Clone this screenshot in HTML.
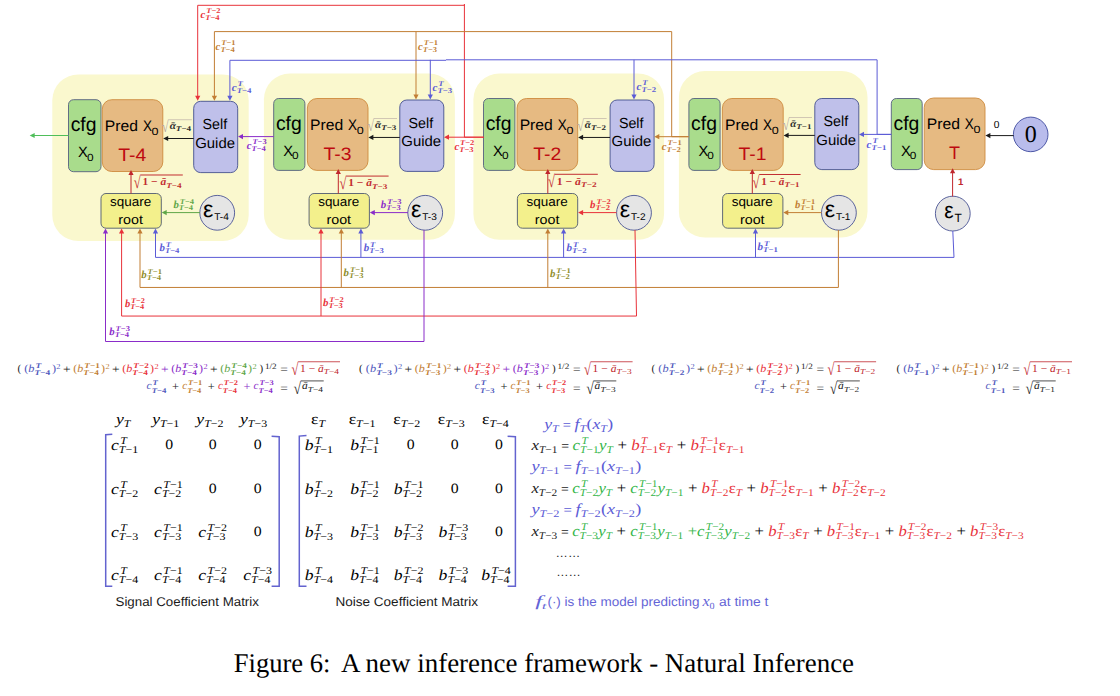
<!DOCTYPE html>
<html lang="en"><head><meta charset="utf-8"><title>Figure 6: A new inference framework - Natural Inference</title>
<style>
html,body{margin:0;padding:0;background:#fff;}
body{width:1120px;height:696px;overflow:hidden;}
svg{display:block;}
text{white-space:pre;text-rendering:geometricPrecision;}
.s,.sb,.si{font-family:"Liberation Sans",sans-serif;}
.r,.rb,.ri,.rbi{font-family:"Liberation Serif",serif;}
.sb,.rb,.rbi{font-weight:bold;}
.si,.ri,.rbi,.i{font-style:italic;}
</style></head><body>
<svg width="1120" height="696" viewBox="0 0 1120 696">
<rect width="1120" height="696" fill="#fff"/>
<g id="groups">
<rect x="52.30" y="74.40" width="196.40" height="166.60" rx="26" fill="#FAF8CE"/>
<rect x="263.90" y="73.40" width="191.00" height="166.30" rx="26" fill="#FAF8CE"/>
<rect x="473.40" y="73.40" width="190.70" height="166.30" rx="26" fill="#FAF8CE"/>
<rect x="678.90" y="71.10" width="188.60" height="166.40" rx="26" fill="#FAF8CE"/>
</g>
<g id="boxes">
<rect x="68.50" y="99.70" width="32.50" height="72.00" rx="5" fill="#A9DC8C" stroke="#55607F" stroke-width="0.9"/>
<rect x="102.30" y="99.70" width="60.50" height="71.80" rx="9.5" fill="#E6BA82" stroke="#CE8B3E" stroke-width="0.9"/>
<rect x="193.70" y="101.30" width="44.00" height="71.30" rx="7" fill="#BFC0EA" stroke="#44508F" stroke-width="0.9"/>
<rect x="101.00" y="193.50" width="60.30" height="34.70" rx="5" fill="#F3F08C" stroke="#4F5A70" stroke-width="0.9"/>
<circle cx="217.2" cy="212.8" r="17.4" fill="#E5E5E5" stroke="#4A5394" stroke-width="0.9"/>
<rect x="273.70" y="98.50" width="31.20" height="71.90" rx="5" fill="#A9DC8C" stroke="#55607F" stroke-width="0.9"/>
<rect x="307.40" y="98.50" width="60.60" height="71.90" rx="9.5" fill="#E6BA82" stroke="#CE8B3E" stroke-width="0.9"/>
<rect x="399.80" y="100.00" width="44.00" height="71.40" rx="7" fill="#BFC0EA" stroke="#44508F" stroke-width="0.9"/>
<rect x="309.10" y="193.50" width="60.30" height="34.70" rx="5" fill="#F3F08C" stroke="#4F5A70" stroke-width="0.9"/>
<circle cx="425.2" cy="212.8" r="17.4" fill="#E5E5E5" stroke="#4A5394" stroke-width="0.9"/>
<rect x="483.50" y="98.50" width="31.40" height="71.90" rx="5" fill="#A9DC8C" stroke="#55607F" stroke-width="0.9"/>
<rect x="517.10" y="98.50" width="60.60" height="71.90" rx="9.5" fill="#E6BA82" stroke="#CE8B3E" stroke-width="0.9"/>
<rect x="610.10" y="100.00" width="44.00" height="71.40" rx="7" fill="#BFC0EA" stroke="#44508F" stroke-width="0.9"/>
<rect x="517.40" y="193.50" width="60.30" height="34.70" rx="5" fill="#F3F08C" stroke="#4F5A70" stroke-width="0.9"/>
<circle cx="634.0" cy="212.8" r="17.4" fill="#E5E5E5" stroke="#4A5394" stroke-width="0.9"/>
<rect x="688.90" y="98.50" width="31.20" height="71.90" rx="5" fill="#A9DC8C" stroke="#55607F" stroke-width="0.9"/>
<rect x="722.40" y="98.50" width="60.80" height="71.90" rx="9.5" fill="#E6BA82" stroke="#CE8B3E" stroke-width="0.9"/>
<rect x="814.80" y="98.50" width="44.00" height="71.10" rx="7" fill="#BFC0EA" stroke="#44508F" stroke-width="0.9"/>
<rect x="722.60" y="193.50" width="60.30" height="34.70" rx="5" fill="#F3F08C" stroke="#4F5A70" stroke-width="0.9"/>
<circle cx="838.9" cy="212.8" r="17.4" fill="#E5E5E5" stroke="#4A5394" stroke-width="0.9"/>
<rect x="891.30" y="98.50" width="30.90" height="71.10" rx="5" fill="#A9DC8C" stroke="#55607F" stroke-width="0.9"/>
<rect x="924.20" y="98.00" width="60.80" height="71.60" rx="9.5" fill="#E6BA82" stroke="#CE8B3E" stroke-width="0.9"/>
<circle cx="952.8" cy="213.6" r="17.4" fill="#E5E5E5" stroke="#4A5394" stroke-width="0.9"/>
<circle cx="1030.7" cy="134.4" r="17.3" fill="#B9BCEC" stroke="#3F4C9E" stroke-width="0.9"/>
</g>
<g id="wires">
<polyline points="483.80,137.20 464.40,137.20 464.40,4.20 464.40,5.30 197.70,5.30" fill="none" stroke="#E8323A" stroke-width="1.0"/>
<polyline points="197.70,5.30 197.70,96.80" fill="none" stroke="#E8323A" stroke-width="1.0"/>
<polygon points="197.70,100.80 195.10,95.80 200.30,95.80" fill="#E8323A"/>
<polyline points="483.80,137.20 448.00,137.20" fill="none" stroke="#E8323A" stroke-width="1.0"/>
<polygon points="444.00,137.20 449.00,134.60 449.00,139.80" fill="#E8323A"/>
<polyline points="688.70,136.70 671.70,136.70 671.70,31.60 214.40,31.60" fill="none" stroke="#C27E34" stroke-width="1.0"/>
<polyline points="214.40,31.60 214.40,96.80" fill="none" stroke="#C27E34" stroke-width="1.0"/>
<polygon points="214.40,100.80 211.80,95.80 217.00,95.80" fill="#C27E34"/>
<polyline points="416.00,31.60 416.00,95.60" fill="none" stroke="#C27E34" stroke-width="1.0"/>
<polygon points="416.00,99.60 413.40,94.60 418.60,94.60" fill="#C27E34"/>
<polyline points="688.70,136.70 658.30,136.70" fill="none" stroke="#C27E34" stroke-width="1.0"/>
<polygon points="654.30,136.70 659.30,134.10 659.30,139.30" fill="#C27E34"/>
<polyline points="891.20,134.40 877.10,134.40 877.10,59.80 446.00,59.80" fill="none" stroke="#5B5BD6" stroke-width="1.0"/>
<polyline points="446.00,60.30 229.90,60.30" fill="none" stroke="#5B5BD6" stroke-width="1.0"/>
<polyline points="229.90,60.30 229.90,96.80" fill="none" stroke="#5B5BD6" stroke-width="1.0"/>
<polygon points="229.90,100.80 227.30,95.80 232.50,95.80" fill="#5B5BD6"/>
<polyline points="430.30,59.80 430.30,95.60" fill="none" stroke="#5B5BD6" stroke-width="1.0"/>
<polygon points="430.30,99.60 427.70,94.60 432.90,94.60" fill="#5B5BD6"/>
<polyline points="634.00,59.80 634.00,95.60" fill="none" stroke="#5B5BD6" stroke-width="1.0"/>
<polygon points="634.00,99.60 631.40,94.60 636.60,94.60" fill="#5B5BD6"/>
<polyline points="891.20,134.40 863.00,134.40" fill="none" stroke="#5B5BD6" stroke-width="1.0"/>
<polygon points="859.00,134.40 864.00,131.80 864.00,137.00" fill="#5B5BD6"/>
<polyline points="273.70,136.60 242.00,136.60" fill="none" stroke="#8A2CC9" stroke-width="1.0"/>
<polygon points="238.00,136.60 243.00,134.00 243.00,139.20" fill="#8A2CC9"/>
<polyline points="68.50,135.50 33.70,135.50" fill="none" stroke="#4FBE5A" stroke-width="1.0"/>
<polygon points="29.70,135.50 34.70,132.90 34.70,138.10" fill="#4FBE5A"/>
<polyline points="193.70,138.50 167.20,138.50" fill="none" stroke="#1a1a1a" stroke-width="1.0"/>
<polygon points="163.20,138.50 168.20,135.90 168.20,141.10" fill="#1a1a1a"/>
<polyline points="399.80,137.45 372.40,137.45" fill="none" stroke="#1a1a1a" stroke-width="1.0"/>
<polygon points="368.40,137.45 373.40,134.85 373.40,140.05" fill="#1a1a1a"/>
<polyline points="610.10,137.45 582.10,137.45" fill="none" stroke="#1a1a1a" stroke-width="1.0"/>
<polygon points="578.10,137.45 583.10,134.85 583.10,140.05" fill="#1a1a1a"/>
<polyline points="814.80,135.40 787.60,135.40" fill="none" stroke="#1a1a1a" stroke-width="1.0"/>
<polygon points="783.60,135.40 788.60,132.80 788.60,138.00" fill="#1a1a1a"/>
<polyline points="1013.60,135.60 989.40,135.60" fill="none" stroke="#1a1a1a" stroke-width="1.0"/>
<polygon points="985.40,135.60 990.40,133.00 990.40,138.20" fill="#1a1a1a"/>
<polyline points="131.00,193.50 131.00,174.10" fill="none" stroke="#C0272D" stroke-width="1.0"/>
<polygon points="131.00,170.10 133.60,175.10 128.40,175.10" fill="#C0272D"/>
<polyline points="338.30,193.50 338.30,173.00" fill="none" stroke="#C0272D" stroke-width="1.0"/>
<polygon points="338.30,169.00 340.90,174.00 335.70,174.00" fill="#C0272D"/>
<polyline points="547.80,193.50 547.80,173.00" fill="none" stroke="#C0272D" stroke-width="1.0"/>
<polygon points="547.80,169.00 550.40,174.00 545.20,174.00" fill="#C0272D"/>
<polyline points="752.30,193.50 752.30,173.00" fill="none" stroke="#C0272D" stroke-width="1.0"/>
<polygon points="752.30,169.00 754.90,174.00 749.70,174.00" fill="#C0272D"/>
<polyline points="952.60,196.50 952.60,172.20" fill="none" stroke="#C0272D" stroke-width="1.0"/>
<polygon points="952.60,168.20 955.20,173.20 950.00,173.20" fill="#C0272D"/>
<polyline points="200.00,212.60 165.70,212.60" fill="none" stroke="#5FA648" stroke-width="1.0"/>
<polygon points="161.70,212.60 166.70,210.00 166.70,215.20" fill="#5FA648"/>
<polyline points="408.00,212.60 373.80,212.60" fill="none" stroke="#8A2CC9" stroke-width="1.0"/>
<polygon points="369.80,212.60 374.80,210.00 374.80,215.20" fill="#8A2CC9"/>
<polyline points="616.50,212.60 582.10,212.60" fill="none" stroke="#E8323A" stroke-width="1.0"/>
<polygon points="578.10,212.60 583.10,210.00 583.10,215.20" fill="#E8323A"/>
<polyline points="821.50,212.60 787.30,212.60" fill="none" stroke="#C27E34" stroke-width="1.0"/>
<polygon points="783.30,212.60 788.30,210.00 788.30,215.20" fill="#C27E34"/>
<polyline points="952.80,231.00 954.00,257.40 155.50,257.40" fill="none" stroke="#5B5BD6" stroke-width="1.0"/>
<polyline points="155.50,257.40 155.50,232.50" fill="none" stroke="#5B5BD6" stroke-width="1.0"/>
<polygon points="155.50,228.50 158.10,233.50 152.90,233.50" fill="#5B5BD6"/>
<polyline points="360.90,257.40 360.90,232.50" fill="none" stroke="#5B5BD6" stroke-width="1.0"/>
<polygon points="360.90,228.50 363.50,233.50 358.30,233.50" fill="#5B5BD6"/>
<polyline points="563.60,257.40 563.60,232.50" fill="none" stroke="#5B5BD6" stroke-width="1.0"/>
<polygon points="563.60,228.50 566.20,233.50 561.00,233.50" fill="#5B5BD6"/>
<polyline points="755.50,257.40 755.50,232.50" fill="none" stroke="#5B5BD6" stroke-width="1.0"/>
<polygon points="755.50,228.50 758.10,233.50 752.90,233.50" fill="#5B5BD6"/>
<polyline points="838.40,230.00 838.40,287.45 140.00,287.45" fill="none" stroke="#C27E34" stroke-width="1.0"/>
<polyline points="140.00,287.45 140.00,232.50" fill="none" stroke="#C27E34" stroke-width="1.0"/>
<polygon points="140.00,228.50 142.60,233.50 137.40,233.50" fill="#C27E34"/>
<polyline points="341.30,287.45 341.30,232.50" fill="none" stroke="#C27E34" stroke-width="1.0"/>
<polygon points="341.30,228.50 343.90,233.50 338.70,233.50" fill="#C27E34"/>
<polyline points="547.80,287.45 547.80,232.50" fill="none" stroke="#C27E34" stroke-width="1.0"/>
<polygon points="547.80,228.50 550.40,233.50 545.20,233.50" fill="#C27E34"/>
<polyline points="635.00,230.00 636.50,316.05 121.60,316.05" fill="none" stroke="#E8323A" stroke-width="1.0"/>
<polyline points="121.60,316.05 121.60,232.50" fill="none" stroke="#E8323A" stroke-width="1.0"/>
<polygon points="121.60,228.50 124.20,233.50 119.00,233.50" fill="#E8323A"/>
<polyline points="321.00,316.05 321.00,232.50" fill="none" stroke="#E8323A" stroke-width="1.0"/>
<polygon points="321.00,228.50 323.60,233.50 318.40,233.50" fill="#E8323A"/>
<polyline points="424.00,230.00 424.00,341.50 105.50,341.50" fill="none" stroke="#8A2CC9" stroke-width="1.0"/>
<polyline points="105.50,341.50 105.50,232.50" fill="none" stroke="#8A2CC9" stroke-width="1.0"/>
<polygon points="105.50,228.50 108.10,233.50 102.90,233.50" fill="#8A2CC9"/>
</g>
<g id="boxtext">
<text x="70.70" y="131.00" font-size="19.80" fill="#000" class="s" textLength="25.80" lengthAdjust="spacingAndGlyphs">cfg</text>
<text x="78.10" y="157.00" font-size="15.00" fill="#000" class="s" textLength="9.80" lengthAdjust="spacingAndGlyphs">X</text>
<text x="86.90" y="160.50" font-size="10.40" fill="#000" class="s" textLength="6.60" lengthAdjust="spacingAndGlyphs">0</text>
<text x="104.85" y="130.70" font-size="15.20" fill="#000" class="s" textLength="33.20" lengthAdjust="spacingAndGlyphs">Pred</text>
<text x="142.90" y="130.70" font-size="15.20" fill="#000" class="s" textLength="9.00" lengthAdjust="spacingAndGlyphs">X</text>
<text x="151.60" y="134.70" font-size="10.50" fill="#000" class="s" textLength="7.00" lengthAdjust="spacingAndGlyphs">0</text>
<text x="132.35" y="160.90" font-size="18.00" fill="#BE0A10" class="s" text-anchor="middle" textLength="28.00" lengthAdjust="spacingAndGlyphs">T-4</text>
<text x="214.80" y="129.00" font-size="14.60" fill="#000" class="s" text-anchor="middle" textLength="24.60" lengthAdjust="spacingAndGlyphs">Self</text>
<text x="215.10" y="147.60" font-size="14.60" fill="#000" class="s" text-anchor="middle" textLength="39.80" lengthAdjust="spacingAndGlyphs">Guide</text>
<text x="130.65" y="206.40" font-size="13.00" fill="#000" class="s" text-anchor="middle" textLength="41.20" lengthAdjust="spacingAndGlyphs">square</text>
<text x="130.65" y="223.60" font-size="13.00" fill="#000" class="s" text-anchor="middle" textLength="24.60" lengthAdjust="spacingAndGlyphs">root</text>
<text x="203.00" y="216.70" font-size="23.20" fill="#000" class="s" textLength="10.40" lengthAdjust="spacingAndGlyphs">ε</text>
<text x="214.20" y="220.30" font-size="9.80" fill="#000" class="s" textLength="14.60" lengthAdjust="spacingAndGlyphs">T-4</text>
<text x="275.90" y="129.80" font-size="19.80" fill="#000" class="s" textLength="25.80" lengthAdjust="spacingAndGlyphs">cfg</text>
<text x="283.30" y="155.80" font-size="15.00" fill="#000" class="s" textLength="9.80" lengthAdjust="spacingAndGlyphs">X</text>
<text x="292.10" y="159.30" font-size="10.40" fill="#000" class="s" textLength="6.60" lengthAdjust="spacingAndGlyphs">0</text>
<text x="309.95" y="129.50" font-size="15.20" fill="#000" class="s" textLength="33.20" lengthAdjust="spacingAndGlyphs">Pred</text>
<text x="348.00" y="129.50" font-size="15.20" fill="#000" class="s" textLength="9.00" lengthAdjust="spacingAndGlyphs">X</text>
<text x="356.70" y="133.50" font-size="10.50" fill="#000" class="s" textLength="7.00" lengthAdjust="spacingAndGlyphs">0</text>
<text x="337.50" y="159.70" font-size="18.00" fill="#BE0A10" class="s" text-anchor="middle" textLength="28.00" lengthAdjust="spacingAndGlyphs">T-3</text>
<text x="420.90" y="127.70" font-size="14.60" fill="#000" class="s" text-anchor="middle" textLength="24.60" lengthAdjust="spacingAndGlyphs">Self</text>
<text x="421.20" y="146.30" font-size="14.60" fill="#000" class="s" text-anchor="middle" textLength="39.80" lengthAdjust="spacingAndGlyphs">Guide</text>
<text x="338.75" y="206.40" font-size="13.00" fill="#000" class="s" text-anchor="middle" textLength="41.20" lengthAdjust="spacingAndGlyphs">square</text>
<text x="338.75" y="223.60" font-size="13.00" fill="#000" class="s" text-anchor="middle" textLength="24.60" lengthAdjust="spacingAndGlyphs">root</text>
<text x="411.00" y="216.70" font-size="23.20" fill="#000" class="s" textLength="10.40" lengthAdjust="spacingAndGlyphs">ε</text>
<text x="422.20" y="220.30" font-size="9.80" fill="#000" class="s" textLength="14.60" lengthAdjust="spacingAndGlyphs">T-3</text>
<text x="485.70" y="129.80" font-size="19.80" fill="#000" class="s" textLength="25.80" lengthAdjust="spacingAndGlyphs">cfg</text>
<text x="493.10" y="155.80" font-size="15.00" fill="#000" class="s" textLength="9.80" lengthAdjust="spacingAndGlyphs">X</text>
<text x="501.90" y="159.30" font-size="10.40" fill="#000" class="s" textLength="6.60" lengthAdjust="spacingAndGlyphs">0</text>
<text x="519.65" y="129.50" font-size="15.20" fill="#000" class="s" textLength="33.20" lengthAdjust="spacingAndGlyphs">Pred</text>
<text x="557.70" y="129.50" font-size="15.20" fill="#000" class="s" textLength="9.00" lengthAdjust="spacingAndGlyphs">X</text>
<text x="566.40" y="133.50" font-size="10.50" fill="#000" class="s" textLength="7.00" lengthAdjust="spacingAndGlyphs">0</text>
<text x="547.20" y="159.70" font-size="18.00" fill="#BE0A10" class="s" text-anchor="middle" textLength="28.00" lengthAdjust="spacingAndGlyphs">T-2</text>
<text x="631.20" y="127.70" font-size="14.60" fill="#000" class="s" text-anchor="middle" textLength="24.60" lengthAdjust="spacingAndGlyphs">Self</text>
<text x="631.50" y="146.30" font-size="14.60" fill="#000" class="s" text-anchor="middle" textLength="39.80" lengthAdjust="spacingAndGlyphs">Guide</text>
<text x="547.05" y="206.40" font-size="13.00" fill="#000" class="s" text-anchor="middle" textLength="41.20" lengthAdjust="spacingAndGlyphs">square</text>
<text x="547.05" y="223.60" font-size="13.00" fill="#000" class="s" text-anchor="middle" textLength="24.60" lengthAdjust="spacingAndGlyphs">root</text>
<text x="619.80" y="216.70" font-size="23.20" fill="#000" class="s" textLength="10.40" lengthAdjust="spacingAndGlyphs">ε</text>
<text x="631.00" y="220.30" font-size="9.80" fill="#000" class="s" textLength="14.60" lengthAdjust="spacingAndGlyphs">T-2</text>
<text x="691.10" y="129.80" font-size="19.80" fill="#000" class="s" textLength="25.80" lengthAdjust="spacingAndGlyphs">cfg</text>
<text x="698.50" y="155.80" font-size="15.00" fill="#000" class="s" textLength="9.80" lengthAdjust="spacingAndGlyphs">X</text>
<text x="707.30" y="159.30" font-size="10.40" fill="#000" class="s" textLength="6.60" lengthAdjust="spacingAndGlyphs">0</text>
<text x="724.95" y="129.50" font-size="15.20" fill="#000" class="s" textLength="33.20" lengthAdjust="spacingAndGlyphs">Pred</text>
<text x="763.00" y="129.50" font-size="15.20" fill="#000" class="s" textLength="9.00" lengthAdjust="spacingAndGlyphs">X</text>
<text x="771.70" y="133.50" font-size="10.50" fill="#000" class="s" textLength="7.00" lengthAdjust="spacingAndGlyphs">0</text>
<text x="752.60" y="159.70" font-size="18.00" fill="#BE0A10" class="s" text-anchor="middle" textLength="28.00" lengthAdjust="spacingAndGlyphs">T-1</text>
<text x="835.90" y="126.20" font-size="14.60" fill="#000" class="s" text-anchor="middle" textLength="24.60" lengthAdjust="spacingAndGlyphs">Self</text>
<text x="836.20" y="144.80" font-size="14.60" fill="#000" class="s" text-anchor="middle" textLength="39.80" lengthAdjust="spacingAndGlyphs">Guide</text>
<text x="752.25" y="206.40" font-size="13.00" fill="#000" class="s" text-anchor="middle" textLength="41.20" lengthAdjust="spacingAndGlyphs">square</text>
<text x="752.25" y="223.60" font-size="13.00" fill="#000" class="s" text-anchor="middle" textLength="24.60" lengthAdjust="spacingAndGlyphs">root</text>
<text x="824.70" y="216.70" font-size="23.20" fill="#000" class="s" textLength="10.40" lengthAdjust="spacingAndGlyphs">ε</text>
<text x="835.90" y="220.30" font-size="9.80" fill="#000" class="s" textLength="14.60" lengthAdjust="spacingAndGlyphs">T-1</text>
<text x="893.50" y="129.80" font-size="19.80" fill="#000" class="s" textLength="25.80" lengthAdjust="spacingAndGlyphs">cfg</text>
<text x="900.90" y="155.80" font-size="15.00" fill="#000" class="s" textLength="9.80" lengthAdjust="spacingAndGlyphs">X</text>
<text x="909.70" y="159.30" font-size="10.40" fill="#000" class="s" textLength="6.60" lengthAdjust="spacingAndGlyphs">0</text>
<text x="926.75" y="129.00" font-size="15.20" fill="#000" class="s" textLength="33.20" lengthAdjust="spacingAndGlyphs">Pred</text>
<text x="964.80" y="129.00" font-size="15.20" fill="#000" class="s" textLength="9.00" lengthAdjust="spacingAndGlyphs">X</text>
<text x="973.50" y="133.00" font-size="10.50" fill="#000" class="s" textLength="7.00" lengthAdjust="spacingAndGlyphs">0</text>
<text x="954.40" y="159.20" font-size="18.00" fill="#BE0A10" class="s" text-anchor="middle">T</text>
<text x="944.20" y="217.80" font-size="23.00" fill="#000" class="s" textLength="9.40" lengthAdjust="spacingAndGlyphs">ε</text>
<text x="954.60" y="221.80" font-size="12.00" fill="#000" class="s">T</text>
<text x="1030.70" y="141.80" font-size="24.00" fill="#000" class="r" text-anchor="middle">0</text>
<text x="996.60" y="127.60" font-size="10.20" fill="#000" class="s" text-anchor="middle">0</text>
<text x="960.70" y="185.20" font-size="9.60" fill="#C0272D" class="sb" text-anchor="middle">1</text>
</g>
<g id="labels">
<g transform="translate(200.50,18.00) scale(0.9917,1)">
<text x="0.00" y="0.00" font-size="10.80" fill="#E8323A" class="rbi">c</text>
<text x="5.74" y="-5.00" font-size="7.40" fill="#E8323A" class="rb" textLength="14.43" lengthAdjust="spacingAndGlyphs"><tspan class="i">T</tspan>−2</text>
<text x="4.88" y="2.00" font-size="7.40" fill="#E8323A" class="rb" textLength="14.43" lengthAdjust="spacingAndGlyphs"><tspan class="i">T</tspan>−4</text>
</g>
<g transform="translate(215.60,50.00) scale(0.9917,1)">
<text x="0.00" y="0.00" font-size="10.80" fill="#C27E34" class="rbi">c</text>
<text x="5.74" y="-5.00" font-size="7.40" fill="#C27E34" class="rb" textLength="14.43" lengthAdjust="spacingAndGlyphs"><tspan class="i">T</tspan>−1</text>
<text x="4.88" y="2.00" font-size="7.40" fill="#C27E34" class="rb" textLength="14.43" lengthAdjust="spacingAndGlyphs"><tspan class="i">T</tspan>−4</text>
</g>
<g transform="translate(231.70,91.00) scale(1.0246,1)">
<text x="0.00" y="0.00" font-size="10.80" fill="#5B5BD6" class="rbi">c</text>
<text x="5.74" y="-5.00" font-size="7.40" fill="#5B5BD6" class="rbi" textLength="5.24" lengthAdjust="spacingAndGlyphs">T</text>
<text x="4.88" y="2.00" font-size="7.40" fill="#5B5BD6" class="rb" textLength="14.43" lengthAdjust="spacingAndGlyphs"><tspan class="i">T</tspan>−4</text>
</g>
<g transform="translate(418.00,50.00) scale(0.9917,1)">
<text x="0.00" y="0.00" font-size="10.80" fill="#C27E34" class="rbi">c</text>
<text x="5.74" y="-5.00" font-size="7.40" fill="#C27E34" class="rb" textLength="14.43" lengthAdjust="spacingAndGlyphs"><tspan class="i">T</tspan>−1</text>
<text x="4.88" y="2.00" font-size="7.40" fill="#C27E34" class="rb" textLength="14.43" lengthAdjust="spacingAndGlyphs"><tspan class="i">T</tspan>−3</text>
</g>
<g transform="translate(432.50,91.00) scale(1.0246,1)">
<text x="0.00" y="0.00" font-size="10.80" fill="#5B5BD6" class="rbi">c</text>
<text x="5.74" y="-5.00" font-size="7.40" fill="#5B5BD6" class="rbi" textLength="5.24" lengthAdjust="spacingAndGlyphs">T</text>
<text x="4.88" y="2.00" font-size="7.40" fill="#5B5BD6" class="rb" textLength="14.43" lengthAdjust="spacingAndGlyphs"><tspan class="i">T</tspan>−3</text>
</g>
<g transform="translate(636.50,90.00) scale(1.0246,1)">
<text x="0.00" y="0.00" font-size="10.80" fill="#5B5BD6" class="rbi">c</text>
<text x="5.74" y="-5.00" font-size="7.40" fill="#5B5BD6" class="rbi" textLength="5.24" lengthAdjust="spacingAndGlyphs">T</text>
<text x="4.88" y="2.00" font-size="7.40" fill="#5B5BD6" class="rb" textLength="14.43" lengthAdjust="spacingAndGlyphs"><tspan class="i">T</tspan>−2</text>
</g>
<g transform="translate(246.70,149.00) scale(0.9917,1)">
<text x="0.00" y="0.00" font-size="10.80" fill="#8A2CC9" class="rbi">c</text>
<text x="5.74" y="-5.00" font-size="7.40" fill="#8A2CC9" class="rb" textLength="14.43" lengthAdjust="spacingAndGlyphs"><tspan class="i">T</tspan>−3</text>
<text x="4.88" y="2.00" font-size="7.40" fill="#8A2CC9" class="rb" textLength="14.43" lengthAdjust="spacingAndGlyphs"><tspan class="i">T</tspan>−4</text>
</g>
<g transform="translate(454.40,150.00) scale(0.9917,1)">
<text x="0.00" y="0.00" font-size="10.80" fill="#E8323A" class="rbi">c</text>
<text x="5.74" y="-5.00" font-size="7.40" fill="#E8323A" class="rb" textLength="14.43" lengthAdjust="spacingAndGlyphs"><tspan class="i">T</tspan>−2</text>
<text x="4.88" y="2.00" font-size="7.40" fill="#E8323A" class="rb" textLength="14.43" lengthAdjust="spacingAndGlyphs"><tspan class="i">T</tspan>−3</text>
</g>
<g transform="translate(661.70,150.00) scale(0.9917,1)">
<text x="0.00" y="0.00" font-size="10.80" fill="#C27E34" class="rbi">c</text>
<text x="5.74" y="-5.00" font-size="7.40" fill="#C27E34" class="rb" textLength="14.43" lengthAdjust="spacingAndGlyphs"><tspan class="i">T</tspan>−1</text>
<text x="4.88" y="2.00" font-size="7.40" fill="#C27E34" class="rb" textLength="14.43" lengthAdjust="spacingAndGlyphs"><tspan class="i">T</tspan>−2</text>
</g>
<g transform="translate(866.60,148.00) scale(1.0246,1)">
<text x="0.00" y="0.00" font-size="10.80" fill="#5B5BD6" class="rbi">c</text>
<text x="5.74" y="-5.00" font-size="7.40" fill="#5B5BD6" class="rbi" textLength="5.24" lengthAdjust="spacingAndGlyphs">T</text>
<text x="4.88" y="2.00" font-size="7.40" fill="#5B5BD6" class="rb" textLength="14.43" lengthAdjust="spacingAndGlyphs"><tspan class="i">T</tspan>−1</text>
</g>
<g transform="translate(173.40,208.00) scale(0.9916,1)">
<text x="0.00" y="0.00" font-size="10.80" fill="#5FA648" class="rbi">b</text>
<text x="6.35" y="-4.00" font-size="7.40" fill="#5FA648" class="rb" textLength="14.43" lengthAdjust="spacingAndGlyphs"><tspan class="i">T</tspan>−4</text>
<text x="5.48" y="2.00" font-size="7.40" fill="#5FA648" class="rb" textLength="14.43" lengthAdjust="spacingAndGlyphs"><tspan class="i">T</tspan>−4</text>
</g>
<g transform="translate(380.80,208.00) scale(1.0012,1)">
<text x="0.00" y="0.00" font-size="10.80" fill="#8A2CC9" class="rbi">b</text>
<text x="6.35" y="-4.00" font-size="7.40" fill="#8A2CC9" class="rb" textLength="14.43" lengthAdjust="spacingAndGlyphs"><tspan class="i">T</tspan>−3</text>
<text x="5.48" y="2.00" font-size="7.40" fill="#8A2CC9" class="rb" textLength="14.43" lengthAdjust="spacingAndGlyphs"><tspan class="i">T</tspan>−3</text>
</g>
<g transform="translate(590.00,208.00) scale(1.0060,1)">
<text x="0.00" y="0.00" font-size="10.80" fill="#E8323A" class="rbi">b</text>
<text x="6.35" y="-4.00" font-size="7.40" fill="#E8323A" class="rb" textLength="14.43" lengthAdjust="spacingAndGlyphs"><tspan class="i">T</tspan>−2</text>
<text x="5.48" y="2.00" font-size="7.40" fill="#E8323A" class="rb" textLength="14.43" lengthAdjust="spacingAndGlyphs"><tspan class="i">T</tspan>−2</text>
</g>
<g transform="translate(795.00,208.00) scale(0.9771,1)">
<text x="0.00" y="0.00" font-size="10.80" fill="#C27E34" class="rbi">b</text>
<text x="6.35" y="-4.00" font-size="7.40" fill="#C27E34" class="rb" textLength="14.43" lengthAdjust="spacingAndGlyphs"><tspan class="i">T</tspan>−1</text>
<text x="5.48" y="2.00" font-size="7.40" fill="#C27E34" class="rb" textLength="14.43" lengthAdjust="spacingAndGlyphs"><tspan class="i">T</tspan>−1</text>
</g>
<g transform="translate(159.50,251.00) scale(0.9987,1)">
<text x="0.00" y="0.00" font-size="10.80" fill="#5B5BD6" class="rbi">b</text>
<text x="6.35" y="-4.00" font-size="7.40" fill="#5B5BD6" class="rbi" textLength="5.24" lengthAdjust="spacingAndGlyphs">T</text>
<text x="5.48" y="2.00" font-size="7.40" fill="#5B5BD6" class="rb" textLength="14.43" lengthAdjust="spacingAndGlyphs"><tspan class="i">T</tspan>−4</text>
</g>
<g transform="translate(363.70,251.00) scale(1.0086,1)">
<text x="0.00" y="0.00" font-size="10.80" fill="#5B5BD6" class="rbi">b</text>
<text x="6.35" y="-4.00" font-size="7.40" fill="#5B5BD6" class="rbi" textLength="5.24" lengthAdjust="spacingAndGlyphs">T</text>
<text x="5.48" y="2.00" font-size="7.40" fill="#5B5BD6" class="rb" textLength="14.43" lengthAdjust="spacingAndGlyphs"><tspan class="i">T</tspan>−3</text>
</g>
<g transform="translate(566.40,251.00) scale(1.0235,1)">
<text x="0.00" y="0.00" font-size="10.80" fill="#5B5BD6" class="rbi">b</text>
<text x="6.35" y="-4.00" font-size="7.40" fill="#5B5BD6" class="rbi" textLength="5.24" lengthAdjust="spacingAndGlyphs">T</text>
<text x="5.48" y="2.00" font-size="7.40" fill="#5B5BD6" class="rb" textLength="14.43" lengthAdjust="spacingAndGlyphs"><tspan class="i">T</tspan>−2</text>
</g>
<g transform="translate(757.50,250.00) scale(1.0185,1)">
<text x="0.00" y="0.00" font-size="10.80" fill="#5B5BD6" class="rbi">b</text>
<text x="6.35" y="-4.00" font-size="7.40" fill="#5B5BD6" class="rbi" textLength="5.24" lengthAdjust="spacingAndGlyphs">T</text>
<text x="5.48" y="2.00" font-size="7.40" fill="#5B5BD6" class="rb" textLength="14.43" lengthAdjust="spacingAndGlyphs"><tspan class="i">T</tspan>−1</text>
</g>
<g transform="translate(141.20,278.00) scale(1.0012,1)">
<text x="0.00" y="0.00" font-size="10.80" fill="#8F8D2B" class="rbi">b</text>
<text x="6.35" y="-4.00" font-size="7.40" fill="#8F8D2B" class="rb" textLength="14.43" lengthAdjust="spacingAndGlyphs"><tspan class="i">T</tspan>−1</text>
<text x="5.48" y="2.00" font-size="7.40" fill="#8F8D2B" class="rb" textLength="14.43" lengthAdjust="spacingAndGlyphs"><tspan class="i">T</tspan>−4</text>
</g>
<g transform="translate(343.60,276.00) scale(1.0012,1)">
<text x="0.00" y="0.00" font-size="10.80" fill="#8F8D2B" class="rbi">b</text>
<text x="6.35" y="-4.00" font-size="7.40" fill="#8F8D2B" class="rb" textLength="14.43" lengthAdjust="spacingAndGlyphs"><tspan class="i">T</tspan>−1</text>
<text x="5.48" y="2.00" font-size="7.40" fill="#8F8D2B" class="rb" textLength="14.43" lengthAdjust="spacingAndGlyphs"><tspan class="i">T</tspan>−3</text>
</g>
<g transform="translate(550.00,277.00) scale(0.9964,1)">
<text x="0.00" y="0.00" font-size="10.80" fill="#8F8D2B" class="rbi">b</text>
<text x="6.35" y="-4.00" font-size="7.40" fill="#8F8D2B" class="rb" textLength="14.43" lengthAdjust="spacingAndGlyphs"><tspan class="i">T</tspan>−1</text>
<text x="5.48" y="2.00" font-size="7.40" fill="#8F8D2B" class="rb" textLength="14.43" lengthAdjust="spacingAndGlyphs"><tspan class="i">T</tspan>−2</text>
</g>
<g transform="translate(124.90,307.00) scale(0.9675,1)">
<text x="0.00" y="0.00" font-size="10.80" fill="#E8323A" class="rbi">b</text>
<text x="6.35" y="-4.00" font-size="7.40" fill="#E8323A" class="rb" textLength="14.43" lengthAdjust="spacingAndGlyphs"><tspan class="i">T</tspan>−2</text>
<text x="5.48" y="2.00" font-size="7.40" fill="#E8323A" class="rb" textLength="14.43" lengthAdjust="spacingAndGlyphs"><tspan class="i">T</tspan>−4</text>
</g>
<g transform="translate(323.00,306.00) scale(1.0012,1)">
<text x="0.00" y="0.00" font-size="10.80" fill="#E8323A" class="rbi">b</text>
<text x="6.35" y="-4.00" font-size="7.40" fill="#E8323A" class="rb" textLength="14.43" lengthAdjust="spacingAndGlyphs"><tspan class="i">T</tspan>−2</text>
<text x="5.48" y="2.00" font-size="7.40" fill="#E8323A" class="rb" textLength="14.43" lengthAdjust="spacingAndGlyphs"><tspan class="i">T</tspan>−3</text>
</g>
<g transform="translate(109.30,335.00) scale(0.9964,1)">
<text x="0.00" y="0.00" font-size="10.80" fill="#8A2CC9" class="rbi">b</text>
<text x="6.35" y="-4.00" font-size="7.40" fill="#8A2CC9" class="rb" textLength="14.43" lengthAdjust="spacingAndGlyphs"><tspan class="i">T</tspan>−3</text>
<text x="5.48" y="2.00" font-size="7.40" fill="#8A2CC9" class="rb" textLength="14.43" lengthAdjust="spacingAndGlyphs"><tspan class="i">T</tspan>−4</text>
</g>
<text x="162.11" y="131.90" font-size="15.90" fill="#B3A59F" class="r" textLength="6.53" lengthAdjust="spacingAndGlyphs">√</text>
<line x1="168.40" y1="119.72" x2="191.80" y2="119.72" stroke="#B3A59F" stroke-width="0.6"/>
<g transform="translate(169.70,128.80) scale(1.0725,1)">
<text x="0.00" y="0.00" font-size="10.40" fill="#2b2b2b" class="rbi">ᾱ</text>
<text x="5.75" y="2.10" font-size="7.20" fill="#2b2b2b" class="rb" textLength="14.28" lengthAdjust="spacingAndGlyphs"><tspan class="i">T</tspan>−4</text>
</g>
<text x="367.51" y="130.70" font-size="15.90" fill="#B3A59F" class="r" textLength="6.53" lengthAdjust="spacingAndGlyphs">√</text>
<line x1="373.80" y1="118.52" x2="397.00" y2="118.52" stroke="#B3A59F" stroke-width="0.6"/>
<g transform="translate(375.10,127.60) scale(1.0626,1)">
<text x="0.00" y="0.00" font-size="10.40" fill="#2b2b2b" class="rbi">ᾱ</text>
<text x="5.75" y="2.10" font-size="7.20" fill="#2b2b2b" class="rb" textLength="14.28" lengthAdjust="spacingAndGlyphs"><tspan class="i">T</tspan>−3</text>
</g>
<text x="577.21" y="130.70" font-size="15.90" fill="#B3A59F" class="r" textLength="6.53" lengthAdjust="spacingAndGlyphs">√</text>
<line x1="583.50" y1="118.52" x2="606.60" y2="118.52" stroke="#B3A59F" stroke-width="0.6"/>
<g transform="translate(584.80,127.60) scale(1.0577,1)">
<text x="0.00" y="0.00" font-size="10.40" fill="#2b2b2b" class="rbi">ᾱ</text>
<text x="5.75" y="2.10" font-size="7.20" fill="#2b2b2b" class="rb" textLength="14.28" lengthAdjust="spacingAndGlyphs"><tspan class="i">T</tspan>−2</text>
</g>
<text x="782.71" y="129.70" font-size="15.90" fill="#B3A59F" class="r" textLength="6.53" lengthAdjust="spacingAndGlyphs">√</text>
<line x1="789.00" y1="117.52" x2="812.00" y2="117.52" stroke="#B3A59F" stroke-width="0.6"/>
<g transform="translate(790.30,126.60) scale(1.0528,1)">
<text x="0.00" y="0.00" font-size="10.40" fill="#2b2b2b" class="rbi">ᾱ</text>
<text x="5.75" y="2.10" font-size="7.20" fill="#2b2b2b" class="rb" textLength="14.28" lengthAdjust="spacingAndGlyphs"><tspan class="i">T</tspan>−1</text>
</g>
<text x="133.79" y="188.00" font-size="17.20" fill="#C22D31" class="r" textLength="6.94" lengthAdjust="spacingAndGlyphs">√</text>
<line x1="140.50" y1="174.99" x2="182.80" y2="174.99" stroke="#C22D31" stroke-width="1.0"/>
<g transform="translate(142.50,185.30) scale(1.0789,1)">
<text x="0.00" y="0.00" font-size="10.60" fill="#C22D31" class="rb">1 − <tspan class="i">ā</tspan></text>
<text x="22.03" y="2.20" font-size="7.20" fill="#C22D31" class="rb" textLength="14.28" lengthAdjust="spacingAndGlyphs"><tspan class="i">T</tspan>−4</text>
</g>
<text x="339.49" y="189.10" font-size="17.20" fill="#C22D31" class="r" textLength="6.94" lengthAdjust="spacingAndGlyphs">√</text>
<line x1="346.20" y1="176.09" x2="388.60" y2="176.09" stroke="#C22D31" stroke-width="1.0"/>
<g transform="translate(348.20,186.40) scale(1.0816,1)">
<text x="0.00" y="0.00" font-size="10.60" fill="#C22D31" class="rb">1 − <tspan class="i">ā</tspan></text>
<text x="22.03" y="2.20" font-size="7.20" fill="#C22D31" class="rb" textLength="14.28" lengthAdjust="spacingAndGlyphs"><tspan class="i">T</tspan>−3</text>
</g>
<text x="547.99" y="187.30" font-size="17.20" fill="#C22D31" class="r" textLength="6.94" lengthAdjust="spacingAndGlyphs">√</text>
<line x1="554.70" y1="174.29" x2="597.80" y2="174.29" stroke="#C22D31" stroke-width="1.0"/>
<g transform="translate(556.70,184.60) scale(1.1008,1)">
<text x="0.00" y="0.00" font-size="10.60" fill="#C22D31" class="rb">1 − <tspan class="i">ā</tspan></text>
<text x="22.03" y="2.20" font-size="7.20" fill="#C22D31" class="rb" textLength="14.28" lengthAdjust="spacingAndGlyphs"><tspan class="i">T</tspan>−2</text>
</g>
<text x="752.49" y="187.50" font-size="17.20" fill="#C22D31" class="r" textLength="6.94" lengthAdjust="spacingAndGlyphs">√</text>
<line x1="759.20" y1="174.49" x2="800.60" y2="174.49" stroke="#C22D31" stroke-width="1.0"/>
<g transform="translate(761.20,184.80) scale(1.0542,1)">
<text x="0.00" y="0.00" font-size="10.60" fill="#C22D31" class="rb">1 − <tspan class="i">ā</tspan></text>
<text x="22.03" y="2.20" font-size="7.20" fill="#C22D31" class="rb" textLength="14.28" lengthAdjust="spacingAndGlyphs"><tspan class="i">T</tspan>−1</text>
</g>
</g>
<g id="equations">
<text x="17.40" y="371.70" font-size="11.00" fill="#222" class="r">(</text>
<g transform="translate(24.20,371.70) scale(1.1188,1)">
<text x="0.00" y="0.00" font-size="11.00" fill="#5058BC" class="r">(</text>
<text x="3.66" y="0.00" font-size="11.00" fill="#5058BC" class="ri">b</text>
<text x="10.12" y="-4.20" font-size="7.30" fill="#5058BC" class="rbi" textLength="5.13" lengthAdjust="spacingAndGlyphs">T</text>
<text x="9.24" y="3.30" font-size="7.30" fill="#5058BC" class="rb" textLength="14.11" lengthAdjust="spacingAndGlyphs"><tspan class="i">T</tspan>−4</text>
<text x="24.77" y="0.00" font-size="11.00" fill="#5058BC" class="r">)</text>
<text x="28.74" y="-3.00" font-size="7.60" fill="#5058BC" class="r">2</text>
</g>
<text x="63.00" y="372.90" font-size="11.60" fill="#222" class="r" textLength="7.60" lengthAdjust="spacingAndGlyphs">+</text>
<g transform="translate(73.20,371.70) scale(1.0965,1)">
<text x="0.00" y="0.00" font-size="11.00" fill="#C27E34" class="r">(</text>
<text x="3.66" y="0.00" font-size="11.00" fill="#C27E34" class="ri">b</text>
<text x="10.12" y="-4.20" font-size="7.30" fill="#C27E34" class="rb" textLength="14.11" lengthAdjust="spacingAndGlyphs"><tspan class="i">T</tspan>−1</text>
<text x="9.24" y="3.30" font-size="7.30" fill="#C27E34" class="rb" textLength="14.11" lengthAdjust="spacingAndGlyphs"><tspan class="i">T</tspan>−4</text>
<text x="25.43" y="0.00" font-size="11.00" fill="#C27E34" class="r">)</text>
<text x="29.40" y="-3.00" font-size="7.60" fill="#C27E34" class="r">2</text>
</g>
<text x="112.00" y="372.90" font-size="11.60" fill="#222" class="r" textLength="7.60" lengthAdjust="spacingAndGlyphs">+</text>
<g transform="translate(122.20,371.70) scale(1.0965,1)">
<text x="0.00" y="0.00" font-size="11.00" fill="#E8323A" class="r">(</text>
<text x="3.66" y="0.00" font-size="11.00" fill="#E8323A" class="ri">b</text>
<text x="10.12" y="-4.20" font-size="7.30" fill="#E8323A" class="rb" textLength="14.11" lengthAdjust="spacingAndGlyphs"><tspan class="i">T</tspan>−2</text>
<text x="9.24" y="3.30" font-size="7.30" fill="#E8323A" class="rb" textLength="14.11" lengthAdjust="spacingAndGlyphs"><tspan class="i">T</tspan>−4</text>
<text x="25.43" y="0.00" font-size="11.00" fill="#E8323A" class="r">)</text>
<text x="29.40" y="-3.00" font-size="7.60" fill="#E8323A" class="r">2</text>
</g>
<text x="161.00" y="372.90" font-size="11.60" fill="#8A2CC9" class="r" textLength="7.60" lengthAdjust="spacingAndGlyphs">+</text>
<g transform="translate(171.20,371.70) scale(1.0965,1)">
<text x="0.00" y="0.00" font-size="11.00" fill="#8A2CC9" class="r">(</text>
<text x="3.66" y="0.00" font-size="11.00" fill="#8A2CC9" class="ri">b</text>
<text x="10.12" y="-4.20" font-size="7.30" fill="#8A2CC9" class="rb" textLength="14.11" lengthAdjust="spacingAndGlyphs"><tspan class="i">T</tspan>−3</text>
<text x="9.24" y="3.30" font-size="7.30" fill="#8A2CC9" class="rb" textLength="14.11" lengthAdjust="spacingAndGlyphs"><tspan class="i">T</tspan>−4</text>
<text x="25.43" y="0.00" font-size="11.00" fill="#8A2CC9" class="r">)</text>
<text x="29.40" y="-3.00" font-size="7.60" fill="#8A2CC9" class="r">2</text>
</g>
<text x="210.00" y="372.90" font-size="11.60" fill="#222" class="r" textLength="7.60" lengthAdjust="spacingAndGlyphs">+</text>
<g transform="translate(220.20,371.70) scale(1.0965,1)">
<text x="0.00" y="0.00" font-size="11.00" fill="#5FA648" class="r">(</text>
<text x="3.66" y="0.00" font-size="11.00" fill="#5FA648" class="ri">b</text>
<text x="10.12" y="-4.20" font-size="7.30" fill="#5FA648" class="rb" textLength="14.11" lengthAdjust="spacingAndGlyphs"><tspan class="i">T</tspan>−4</text>
<text x="9.24" y="3.30" font-size="7.30" fill="#5FA648" class="rb" textLength="14.11" lengthAdjust="spacingAndGlyphs"><tspan class="i">T</tspan>−4</text>
<text x="25.43" y="0.00" font-size="11.00" fill="#5FA648" class="r">)</text>
<text x="29.40" y="-3.00" font-size="7.60" fill="#5FA648" class="r">2</text>
</g>
<text x="259.50" y="371.70" font-size="11.00" fill="#222" class="r">)</text>
<text x="264.90" y="368.70" font-size="8.20" fill="#222" class="r" textLength="11.80" lengthAdjust="spacingAndGlyphs">1/2</text>
<text x="280.30" y="372.60" font-size="11.60" fill="#222" class="r" textLength="7.60" lengthAdjust="spacingAndGlyphs">=</text>
<text x="291.49" y="374.70" font-size="17.00" fill="#C0272D" class="r" textLength="6.94" lengthAdjust="spacingAndGlyphs">√</text>
<line x1="298.20" y1="361.75" x2="340.00" y2="361.75" stroke="#C0272D" stroke-width="0.8"/>
<g transform="translate(300.00,371.90) scale(1.0471,1)">
<text x="0.00" y="0.00" font-size="11.00" fill="#C0272D" class="r">1 − <tspan class="i">ā</tspan></text>
<text x="22.78" y="2.30" font-size="7.60" fill="#C0272D" class="r" textLength="14.53" lengthAdjust="spacingAndGlyphs"><tspan class="i">T</tspan>−4</text>
</g>
<g transform="translate(146.50,389.40) scale(1.0367,1)">
<text x="0.00" y="0.00" font-size="11.00" fill="#5058BC" class="ri">c</text>
<text x="5.84" y="-4.20" font-size="7.30" fill="#5058BC" class="rbi" textLength="5.13" lengthAdjust="spacingAndGlyphs">T</text>
<text x="4.96" y="3.30" font-size="7.30" fill="#5058BC" class="rb" textLength="14.11" lengthAdjust="spacingAndGlyphs"><tspan class="i">T</tspan>−4</text>
</g>
<text x="172.10" y="390.40" font-size="11.40" fill="#222" class="r" textLength="7.00" lengthAdjust="spacingAndGlyphs">+</text>
<g transform="translate(182.20,389.40) scale(1.0024,1)">
<text x="0.00" y="0.00" font-size="11.00" fill="#C27E34" class="ri">c</text>
<text x="5.84" y="-4.20" font-size="7.30" fill="#C27E34" class="rb" textLength="14.11" lengthAdjust="spacingAndGlyphs"><tspan class="i">T</tspan>−1</text>
<text x="4.96" y="3.30" font-size="7.30" fill="#C27E34" class="rb" textLength="14.11" lengthAdjust="spacingAndGlyphs"><tspan class="i">T</tspan>−4</text>
</g>
<text x="207.80" y="390.40" font-size="11.40" fill="#222" class="r" textLength="7.00" lengthAdjust="spacingAndGlyphs">+</text>
<g transform="translate(217.90,389.40) scale(1.0024,1)">
<text x="0.00" y="0.00" font-size="11.00" fill="#E8323A" class="ri">c</text>
<text x="5.84" y="-4.20" font-size="7.30" fill="#E8323A" class="rb" textLength="14.11" lengthAdjust="spacingAndGlyphs"><tspan class="i">T</tspan>−2</text>
<text x="4.96" y="3.30" font-size="7.30" fill="#E8323A" class="rb" textLength="14.11" lengthAdjust="spacingAndGlyphs"><tspan class="i">T</tspan>−4</text>
</g>
<text x="243.50" y="390.40" font-size="11.40" fill="#8A2CC9" class="r" textLength="7.00" lengthAdjust="spacingAndGlyphs">+</text>
<g transform="translate(253.60,389.40) scale(1.0024,1)">
<text x="0.00" y="0.00" font-size="11.00" fill="#8A2CC9" class="ri">c</text>
<text x="5.84" y="-4.20" font-size="7.30" fill="#8A2CC9" class="rb" textLength="14.11" lengthAdjust="spacingAndGlyphs"><tspan class="i">T</tspan>−3</text>
<text x="4.96" y="3.30" font-size="7.30" fill="#8A2CC9" class="rb" textLength="14.11" lengthAdjust="spacingAndGlyphs"><tspan class="i">T</tspan>−4</text>
</g>
<text x="280.30" y="391.70" font-size="11.60" fill="#222" class="r" textLength="7.60" lengthAdjust="spacingAndGlyphs">=</text>
<text x="293.56" y="393.70" font-size="16.80" fill="#222" class="r" textLength="7.55" lengthAdjust="spacingAndGlyphs">√</text>
<line x1="300.90" y1="380.91" x2="323.70" y2="380.91" stroke="#222" stroke-width="0.8"/>
<g transform="translate(302.00,389.40) scale(1.0428,1)">
<text x="0.00" y="0.00" font-size="11.00" fill="#222" class="ri">ā</text>
<text x="5.58" y="2.50" font-size="7.60" fill="#222" class="r" textLength="14.53" lengthAdjust="spacingAndGlyphs"><tspan class="i">T</tspan>−4</text>
</g>
<text x="359.00" y="371.70" font-size="11.00" fill="#222" class="r">(</text>
<g transform="translate(365.80,371.70) scale(1.1188,1)">
<text x="0.00" y="0.00" font-size="11.00" fill="#5058BC" class="r">(</text>
<text x="3.66" y="0.00" font-size="11.00" fill="#5058BC" class="ri">b</text>
<text x="10.12" y="-4.20" font-size="7.30" fill="#5058BC" class="rbi" textLength="5.13" lengthAdjust="spacingAndGlyphs">T</text>
<text x="9.24" y="3.30" font-size="7.30" fill="#5058BC" class="rb" textLength="14.11" lengthAdjust="spacingAndGlyphs"><tspan class="i">T</tspan>−3</text>
<text x="24.77" y="0.00" font-size="11.00" fill="#5058BC" class="r">)</text>
<text x="28.74" y="-3.00" font-size="7.60" fill="#5058BC" class="r">2</text>
</g>
<text x="404.60" y="372.90" font-size="11.60" fill="#222" class="r" textLength="7.60" lengthAdjust="spacingAndGlyphs">+</text>
<g transform="translate(414.80,371.70) scale(1.0965,1)">
<text x="0.00" y="0.00" font-size="11.00" fill="#C27E34" class="r">(</text>
<text x="3.66" y="0.00" font-size="11.00" fill="#C27E34" class="ri">b</text>
<text x="10.12" y="-4.20" font-size="7.30" fill="#C27E34" class="rb" textLength="14.11" lengthAdjust="spacingAndGlyphs"><tspan class="i">T</tspan>−1</text>
<text x="9.24" y="3.30" font-size="7.30" fill="#C27E34" class="rb" textLength="14.11" lengthAdjust="spacingAndGlyphs"><tspan class="i">T</tspan>−3</text>
<text x="25.43" y="0.00" font-size="11.00" fill="#C27E34" class="r">)</text>
<text x="29.40" y="-3.00" font-size="7.60" fill="#C27E34" class="r">2</text>
</g>
<text x="453.60" y="372.90" font-size="11.60" fill="#222" class="r" textLength="7.60" lengthAdjust="spacingAndGlyphs">+</text>
<g transform="translate(463.80,371.70) scale(1.0965,1)">
<text x="0.00" y="0.00" font-size="11.00" fill="#E8323A" class="r">(</text>
<text x="3.66" y="0.00" font-size="11.00" fill="#E8323A" class="ri">b</text>
<text x="10.12" y="-4.20" font-size="7.30" fill="#E8323A" class="rb" textLength="14.11" lengthAdjust="spacingAndGlyphs"><tspan class="i">T</tspan>−2</text>
<text x="9.24" y="3.30" font-size="7.30" fill="#E8323A" class="rb" textLength="14.11" lengthAdjust="spacingAndGlyphs"><tspan class="i">T</tspan>−3</text>
<text x="25.43" y="0.00" font-size="11.00" fill="#E8323A" class="r">)</text>
<text x="29.40" y="-3.00" font-size="7.60" fill="#E8323A" class="r">2</text>
</g>
<text x="502.60" y="372.90" font-size="11.60" fill="#8A2CC9" class="r" textLength="7.60" lengthAdjust="spacingAndGlyphs">+</text>
<g transform="translate(512.80,371.70) scale(1.0965,1)">
<text x="0.00" y="0.00" font-size="11.00" fill="#8A2CC9" class="r">(</text>
<text x="3.66" y="0.00" font-size="11.00" fill="#8A2CC9" class="ri">b</text>
<text x="10.12" y="-4.20" font-size="7.30" fill="#8A2CC9" class="rb" textLength="14.11" lengthAdjust="spacingAndGlyphs"><tspan class="i">T</tspan>−3</text>
<text x="9.24" y="3.30" font-size="7.30" fill="#8A2CC9" class="rb" textLength="14.11" lengthAdjust="spacingAndGlyphs"><tspan class="i">T</tspan>−3</text>
<text x="25.43" y="0.00" font-size="11.00" fill="#8A2CC9" class="r">)</text>
<text x="29.40" y="-3.00" font-size="7.60" fill="#8A2CC9" class="r">2</text>
</g>
<text x="552.10" y="371.70" font-size="11.00" fill="#222" class="r">)</text>
<text x="557.50" y="368.70" font-size="8.20" fill="#222" class="r" textLength="11.80" lengthAdjust="spacingAndGlyphs">1/2</text>
<text x="572.90" y="372.60" font-size="11.60" fill="#222" class="r" textLength="7.60" lengthAdjust="spacingAndGlyphs">=</text>
<text x="584.09" y="374.70" font-size="17.00" fill="#C0272D" class="r" textLength="6.94" lengthAdjust="spacingAndGlyphs">√</text>
<line x1="590.80" y1="361.75" x2="632.60" y2="361.75" stroke="#C0272D" stroke-width="0.8"/>
<g transform="translate(592.60,371.90) scale(1.0471,1)">
<text x="0.00" y="0.00" font-size="11.00" fill="#C0272D" class="r">1 − <tspan class="i">ā</tspan></text>
<text x="22.78" y="2.30" font-size="7.60" fill="#C0272D" class="r" textLength="14.53" lengthAdjust="spacingAndGlyphs"><tspan class="i">T</tspan>−3</text>
</g>
<g transform="translate(474.80,389.40) scale(1.0367,1)">
<text x="0.00" y="0.00" font-size="11.00" fill="#5058BC" class="ri">c</text>
<text x="5.84" y="-4.20" font-size="7.30" fill="#5058BC" class="rbi" textLength="5.13" lengthAdjust="spacingAndGlyphs">T</text>
<text x="4.96" y="3.30" font-size="7.30" fill="#5058BC" class="rb" textLength="14.11" lengthAdjust="spacingAndGlyphs"><tspan class="i">T</tspan>−3</text>
</g>
<text x="500.40" y="390.40" font-size="11.40" fill="#222" class="r" textLength="7.00" lengthAdjust="spacingAndGlyphs">+</text>
<g transform="translate(510.50,389.40) scale(1.0024,1)">
<text x="0.00" y="0.00" font-size="11.00" fill="#C27E34" class="ri">c</text>
<text x="5.84" y="-4.20" font-size="7.30" fill="#C27E34" class="rb" textLength="14.11" lengthAdjust="spacingAndGlyphs"><tspan class="i">T</tspan>−1</text>
<text x="4.96" y="3.30" font-size="7.30" fill="#C27E34" class="rb" textLength="14.11" lengthAdjust="spacingAndGlyphs"><tspan class="i">T</tspan>−3</text>
</g>
<text x="536.10" y="390.40" font-size="11.40" fill="#222" class="r" textLength="7.00" lengthAdjust="spacingAndGlyphs">+</text>
<g transform="translate(546.20,389.40) scale(1.0024,1)">
<text x="0.00" y="0.00" font-size="11.00" fill="#E8323A" class="ri">c</text>
<text x="5.84" y="-4.20" font-size="7.30" fill="#E8323A" class="rb" textLength="14.11" lengthAdjust="spacingAndGlyphs"><tspan class="i">T</tspan>−2</text>
<text x="4.96" y="3.30" font-size="7.30" fill="#E8323A" class="rb" textLength="14.11" lengthAdjust="spacingAndGlyphs"><tspan class="i">T</tspan>−3</text>
</g>
<text x="572.90" y="391.70" font-size="11.60" fill="#222" class="r" textLength="7.60" lengthAdjust="spacingAndGlyphs">=</text>
<text x="586.16" y="393.70" font-size="16.80" fill="#222" class="r" textLength="7.55" lengthAdjust="spacingAndGlyphs">√</text>
<line x1="593.50" y1="380.91" x2="616.30" y2="380.91" stroke="#222" stroke-width="0.8"/>
<g transform="translate(594.60,389.40) scale(1.0428,1)">
<text x="0.00" y="0.00" font-size="11.00" fill="#222" class="ri">ā</text>
<text x="5.58" y="2.50" font-size="7.60" fill="#222" class="r" textLength="14.53" lengthAdjust="spacingAndGlyphs"><tspan class="i">T</tspan>−3</text>
</g>
<text x="651.50" y="371.70" font-size="11.00" fill="#222" class="r">(</text>
<g transform="translate(658.30,371.70) scale(1.1188,1)">
<text x="0.00" y="0.00" font-size="11.00" fill="#5058BC" class="r">(</text>
<text x="3.66" y="0.00" font-size="11.00" fill="#5058BC" class="ri">b</text>
<text x="10.12" y="-4.20" font-size="7.30" fill="#5058BC" class="rbi" textLength="5.13" lengthAdjust="spacingAndGlyphs">T</text>
<text x="9.24" y="3.30" font-size="7.30" fill="#5058BC" class="rb" textLength="14.11" lengthAdjust="spacingAndGlyphs"><tspan class="i">T</tspan>−2</text>
<text x="24.77" y="0.00" font-size="11.00" fill="#5058BC" class="r">)</text>
<text x="28.74" y="-3.00" font-size="7.60" fill="#5058BC" class="r">2</text>
</g>
<text x="697.10" y="372.90" font-size="11.60" fill="#222" class="r" textLength="7.60" lengthAdjust="spacingAndGlyphs">+</text>
<g transform="translate(707.30,371.70) scale(1.0965,1)">
<text x="0.00" y="0.00" font-size="11.00" fill="#C27E34" class="r">(</text>
<text x="3.66" y="0.00" font-size="11.00" fill="#C27E34" class="ri">b</text>
<text x="10.12" y="-4.20" font-size="7.30" fill="#C27E34" class="rb" textLength="14.11" lengthAdjust="spacingAndGlyphs"><tspan class="i">T</tspan>−1</text>
<text x="9.24" y="3.30" font-size="7.30" fill="#C27E34" class="rb" textLength="14.11" lengthAdjust="spacingAndGlyphs"><tspan class="i">T</tspan>−2</text>
<text x="25.43" y="0.00" font-size="11.00" fill="#C27E34" class="r">)</text>
<text x="29.40" y="-3.00" font-size="7.60" fill="#C27E34" class="r">2</text>
</g>
<text x="746.10" y="372.90" font-size="11.60" fill="#222" class="r" textLength="7.60" lengthAdjust="spacingAndGlyphs">+</text>
<g transform="translate(756.30,371.70) scale(1.0965,1)">
<text x="0.00" y="0.00" font-size="11.00" fill="#E8323A" class="r">(</text>
<text x="3.66" y="0.00" font-size="11.00" fill="#E8323A" class="ri">b</text>
<text x="10.12" y="-4.20" font-size="7.30" fill="#E8323A" class="rb" textLength="14.11" lengthAdjust="spacingAndGlyphs"><tspan class="i">T</tspan>−2</text>
<text x="9.24" y="3.30" font-size="7.30" fill="#E8323A" class="rb" textLength="14.11" lengthAdjust="spacingAndGlyphs"><tspan class="i">T</tspan>−2</text>
<text x="25.43" y="0.00" font-size="11.00" fill="#E8323A" class="r">)</text>
<text x="29.40" y="-3.00" font-size="7.60" fill="#E8323A" class="r">2</text>
</g>
<text x="795.60" y="371.70" font-size="11.00" fill="#222" class="r">)</text>
<text x="801.00" y="368.70" font-size="8.20" fill="#222" class="r" textLength="11.80" lengthAdjust="spacingAndGlyphs">1/2</text>
<text x="816.40" y="372.60" font-size="11.60" fill="#222" class="r" textLength="7.60" lengthAdjust="spacingAndGlyphs">=</text>
<text x="827.59" y="374.70" font-size="17.00" fill="#C0272D" class="r" textLength="6.94" lengthAdjust="spacingAndGlyphs">√</text>
<line x1="834.30" y1="361.75" x2="876.10" y2="361.75" stroke="#C0272D" stroke-width="0.8"/>
<g transform="translate(836.10,371.90) scale(1.0471,1)">
<text x="0.00" y="0.00" font-size="11.00" fill="#C0272D" class="r">1 − <tspan class="i">ā</tspan></text>
<text x="22.78" y="2.30" font-size="7.60" fill="#C0272D" class="r" textLength="14.53" lengthAdjust="spacingAndGlyphs"><tspan class="i">T</tspan>−2</text>
</g>
<g transform="translate(754.40,389.40) scale(1.0367,1)">
<text x="0.00" y="0.00" font-size="11.00" fill="#5058BC" class="ri">c</text>
<text x="5.84" y="-4.20" font-size="7.30" fill="#5058BC" class="rbi" textLength="5.13" lengthAdjust="spacingAndGlyphs">T</text>
<text x="4.96" y="3.30" font-size="7.30" fill="#5058BC" class="rb" textLength="14.11" lengthAdjust="spacingAndGlyphs"><tspan class="i">T</tspan>−2</text>
</g>
<text x="780.00" y="390.40" font-size="11.40" fill="#222" class="r" textLength="7.00" lengthAdjust="spacingAndGlyphs">+</text>
<g transform="translate(790.10,389.40) scale(1.0024,1)">
<text x="0.00" y="0.00" font-size="11.00" fill="#C27E34" class="ri">c</text>
<text x="5.84" y="-4.20" font-size="7.30" fill="#C27E34" class="rb" textLength="14.11" lengthAdjust="spacingAndGlyphs"><tspan class="i">T</tspan>−1</text>
<text x="4.96" y="3.30" font-size="7.30" fill="#C27E34" class="rb" textLength="14.11" lengthAdjust="spacingAndGlyphs"><tspan class="i">T</tspan>−2</text>
</g>
<text x="816.40" y="391.70" font-size="11.60" fill="#222" class="r" textLength="7.60" lengthAdjust="spacingAndGlyphs">=</text>
<text x="829.66" y="393.70" font-size="16.80" fill="#222" class="r" textLength="7.55" lengthAdjust="spacingAndGlyphs">√</text>
<line x1="837.00" y1="380.91" x2="859.80" y2="380.91" stroke="#222" stroke-width="0.8"/>
<g transform="translate(838.10,389.40) scale(1.0428,1)">
<text x="0.00" y="0.00" font-size="11.00" fill="#222" class="ri">ā</text>
<text x="5.58" y="2.50" font-size="7.60" fill="#222" class="r" textLength="14.53" lengthAdjust="spacingAndGlyphs"><tspan class="i">T</tspan>−2</text>
</g>
<text x="896.40" y="371.70" font-size="11.00" fill="#222" class="r">(</text>
<g transform="translate(903.20,371.70) scale(1.1188,1)">
<text x="0.00" y="0.00" font-size="11.00" fill="#5058BC" class="r">(</text>
<text x="3.66" y="0.00" font-size="11.00" fill="#5058BC" class="ri">b</text>
<text x="10.12" y="-4.20" font-size="7.30" fill="#5058BC" class="rbi" textLength="5.13" lengthAdjust="spacingAndGlyphs">T</text>
<text x="9.24" y="3.30" font-size="7.30" fill="#5058BC" class="rb" textLength="14.11" lengthAdjust="spacingAndGlyphs"><tspan class="i">T</tspan>−1</text>
<text x="24.77" y="0.00" font-size="11.00" fill="#5058BC" class="r">)</text>
<text x="28.74" y="-3.00" font-size="7.60" fill="#5058BC" class="r">2</text>
</g>
<text x="942.00" y="372.90" font-size="11.60" fill="#222" class="r" textLength="7.60" lengthAdjust="spacingAndGlyphs">+</text>
<g transform="translate(952.20,371.70) scale(1.0965,1)">
<text x="0.00" y="0.00" font-size="11.00" fill="#C27E34" class="r">(</text>
<text x="3.66" y="0.00" font-size="11.00" fill="#C27E34" class="ri">b</text>
<text x="10.12" y="-4.20" font-size="7.30" fill="#C27E34" class="rb" textLength="14.11" lengthAdjust="spacingAndGlyphs"><tspan class="i">T</tspan>−1</text>
<text x="9.24" y="3.30" font-size="7.30" fill="#C27E34" class="rb" textLength="14.11" lengthAdjust="spacingAndGlyphs"><tspan class="i">T</tspan>−1</text>
<text x="25.43" y="0.00" font-size="11.00" fill="#C27E34" class="r">)</text>
<text x="29.40" y="-3.00" font-size="7.60" fill="#C27E34" class="r">2</text>
</g>
<text x="991.50" y="371.70" font-size="11.00" fill="#222" class="r">)</text>
<text x="996.90" y="368.70" font-size="8.20" fill="#222" class="r" textLength="11.80" lengthAdjust="spacingAndGlyphs">1/2</text>
<text x="1012.30" y="372.60" font-size="11.60" fill="#222" class="r" textLength="7.60" lengthAdjust="spacingAndGlyphs">=</text>
<text x="1023.49" y="374.70" font-size="17.00" fill="#C0272D" class="r" textLength="6.94" lengthAdjust="spacingAndGlyphs">√</text>
<line x1="1030.20" y1="361.75" x2="1072.00" y2="361.75" stroke="#C0272D" stroke-width="0.8"/>
<g transform="translate(1032.00,371.90) scale(1.0471,1)">
<text x="0.00" y="0.00" font-size="11.00" fill="#C0272D" class="r">1 − <tspan class="i">ā</tspan></text>
<text x="22.78" y="2.30" font-size="7.60" fill="#C0272D" class="r" textLength="14.53" lengthAdjust="spacingAndGlyphs"><tspan class="i">T</tspan>−1</text>
</g>
<g transform="translate(985.60,389.40) scale(1.0367,1)">
<text x="0.00" y="0.00" font-size="11.00" fill="#5058BC" class="ri">c</text>
<text x="5.84" y="-4.20" font-size="7.30" fill="#5058BC" class="rbi" textLength="5.13" lengthAdjust="spacingAndGlyphs">T</text>
<text x="4.96" y="3.30" font-size="7.30" fill="#5058BC" class="rb" textLength="14.11" lengthAdjust="spacingAndGlyphs"><tspan class="i">T</tspan>−1</text>
</g>
<text x="1012.30" y="391.70" font-size="11.60" fill="#222" class="r" textLength="7.60" lengthAdjust="spacingAndGlyphs">=</text>
<text x="1025.56" y="393.70" font-size="16.80" fill="#222" class="r" textLength="7.55" lengthAdjust="spacingAndGlyphs">√</text>
<line x1="1032.90" y1="380.91" x2="1055.70" y2="380.91" stroke="#222" stroke-width="0.8"/>
<g transform="translate(1034.00,389.40) scale(1.0428,1)">
<text x="0.00" y="0.00" font-size="11.00" fill="#222" class="ri">ā</text>
<text x="5.58" y="2.50" font-size="7.60" fill="#222" class="r" textLength="14.53" lengthAdjust="spacingAndGlyphs"><tspan class="i">T</tspan>−1</text>
</g>
</g>
<g id="matrices">
<g transform="translate(115.99,424.20) scale(1.1600,1)">
<text x="0.00" y="-0.20" font-size="15.20" fill="#000" class="ri">y</text>
<text x="6.74" y="2.80" font-size="10.30" fill="#000" class="ri">T</text>
</g>
<g transform="translate(152.13,424.20) scale(1.1600,1)">
<text x="0.00" y="-0.20" font-size="15.20" fill="#000" class="ri">y</text>
<text x="6.74" y="2.80" font-size="10.30" fill="#000" class="r"><tspan class="i">T</tspan>−1</text>
</g>
<g transform="translate(196.33,424.20) scale(1.1600,1)">
<text x="0.00" y="-0.20" font-size="15.20" fill="#000" class="ri">y</text>
<text x="6.74" y="2.80" font-size="10.30" fill="#000" class="r"><tspan class="i">T</tspan>−2</text>
</g>
<g transform="translate(240.03,424.20) scale(1.1600,1)">
<text x="0.00" y="-0.20" font-size="15.20" fill="#000" class="ri">y</text>
<text x="6.74" y="2.80" font-size="10.30" fill="#000" class="r"><tspan class="i">T</tspan>−3</text>
</g>
<g transform="translate(110.93,450.30) scale(1.1600,1)">
<text x="0.00" y="-0.30" font-size="15.20" fill="#000" class="ri">c</text>
<text x="7.96" y="-6.30" font-size="10.30" fill="#000" class="ri">T</text>
<text x="6.74" y="2.70" font-size="10.30" fill="#000" class="r"><tspan class="i">T</tspan>−1</text>
</g>
<text x="169.20" y="449.00" font-size="14.20" fill="#000" class="r" text-anchor="middle" textLength="7.90" lengthAdjust="spacingAndGlyphs">0</text>
<text x="212.60" y="449.00" font-size="14.20" fill="#000" class="r" text-anchor="middle" textLength="7.90" lengthAdjust="spacingAndGlyphs">0</text>
<text x="257.60" y="449.00" font-size="14.20" fill="#000" class="r" text-anchor="middle" textLength="7.90" lengthAdjust="spacingAndGlyphs">0</text>
<g transform="translate(110.93,493.70) scale(1.1600,1)">
<text x="0.00" y="0.30" font-size="15.20" fill="#000" class="ri">c</text>
<text x="7.96" y="-5.70" font-size="10.30" fill="#000" class="ri">T</text>
<text x="6.74" y="3.30" font-size="10.30" fill="#000" class="r"><tspan class="i">T</tspan>−2</text>
</g>
<g transform="translate(154.11,493.70) scale(1.1600,1)">
<text x="0.00" y="0.30" font-size="15.20" fill="#000" class="ri">c</text>
<text x="7.96" y="-5.70" font-size="10.30" fill="#000" class="r"><tspan class="i">T</tspan>−1</text>
<text x="6.74" y="3.30" font-size="10.30" fill="#000" class="r"><tspan class="i">T</tspan>−2</text>
</g>
<text x="212.60" y="492.80" font-size="14.20" fill="#000" class="r" text-anchor="middle" textLength="7.90" lengthAdjust="spacingAndGlyphs">0</text>
<text x="257.60" y="492.80" font-size="14.20" fill="#000" class="r" text-anchor="middle" textLength="7.90" lengthAdjust="spacingAndGlyphs">0</text>
<g transform="translate(110.93,537.10) scale(1.1600,1)">
<text x="0.00" y="-0.10" font-size="15.20" fill="#000" class="ri">c</text>
<text x="7.96" y="-6.10" font-size="10.30" fill="#000" class="ri">T</text>
<text x="6.74" y="2.90" font-size="10.30" fill="#000" class="r"><tspan class="i">T</tspan>−3</text>
</g>
<g transform="translate(154.11,537.10) scale(1.1600,1)">
<text x="0.00" y="-0.10" font-size="15.20" fill="#000" class="ri">c</text>
<text x="7.96" y="-6.10" font-size="10.30" fill="#000" class="r"><tspan class="i">T</tspan>−1</text>
<text x="6.74" y="2.90" font-size="10.30" fill="#000" class="r"><tspan class="i">T</tspan>−3</text>
</g>
<g transform="translate(198.31,537.10) scale(1.1600,1)">
<text x="0.00" y="-0.10" font-size="15.20" fill="#000" class="ri">c</text>
<text x="7.96" y="-6.10" font-size="10.30" fill="#000" class="r"><tspan class="i">T</tspan>−2</text>
<text x="6.74" y="2.90" font-size="10.30" fill="#000" class="r"><tspan class="i">T</tspan>−3</text>
</g>
<text x="257.60" y="536.10" font-size="14.20" fill="#000" class="r" text-anchor="middle" textLength="7.90" lengthAdjust="spacingAndGlyphs">0</text>
<g transform="translate(110.93,580.40) scale(1.1600,1)">
<text x="0.00" y="-0.40" font-size="15.20" fill="#000" class="ri">c</text>
<text x="7.96" y="-6.40" font-size="10.30" fill="#000" class="ri">T</text>
<text x="6.74" y="2.60" font-size="10.30" fill="#000" class="r"><tspan class="i">T</tspan>−4</text>
</g>
<g transform="translate(154.11,580.40) scale(1.1600,1)">
<text x="0.00" y="-0.40" font-size="15.20" fill="#000" class="ri">c</text>
<text x="7.96" y="-6.40" font-size="10.30" fill="#000" class="r"><tspan class="i">T</tspan>−1</text>
<text x="6.74" y="2.60" font-size="10.30" fill="#000" class="r"><tspan class="i">T</tspan>−4</text>
</g>
<g transform="translate(198.31,580.40) scale(1.1600,1)">
<text x="0.00" y="-0.40" font-size="15.20" fill="#000" class="ri">c</text>
<text x="7.96" y="-6.40" font-size="10.30" fill="#000" class="r"><tspan class="i">T</tspan>−2</text>
<text x="6.74" y="2.60" font-size="10.30" fill="#000" class="r"><tspan class="i">T</tspan>−4</text>
</g>
<g transform="translate(243.31,580.40) scale(1.1600,1)">
<text x="0.00" y="-0.40" font-size="15.20" fill="#000" class="ri">c</text>
<text x="7.96" y="-6.40" font-size="10.30" fill="#000" class="r"><tspan class="i">T</tspan>−3</text>
<text x="6.74" y="2.60" font-size="10.30" fill="#000" class="r"><tspan class="i">T</tspan>−4</text>
</g>
<g transform="translate(311.00,424.20) scale(1.1600,1)">
<text x="0.00" y="-0.20" font-size="15.20" fill="#000" class="r">ε</text>
<text x="6.38" y="2.80" font-size="10.30" fill="#000" class="ri">T</text>
</g>
<g transform="translate(348.65,424.20) scale(1.1600,1)">
<text x="0.00" y="-0.20" font-size="15.20" fill="#000" class="r">ε</text>
<text x="6.38" y="2.80" font-size="10.30" fill="#000" class="r"><tspan class="i">T</tspan>−1</text>
</g>
<g transform="translate(393.35,424.20) scale(1.1600,1)">
<text x="0.00" y="-0.20" font-size="15.20" fill="#000" class="r">ε</text>
<text x="6.38" y="2.80" font-size="10.30" fill="#000" class="r"><tspan class="i">T</tspan>−2</text>
</g>
<g transform="translate(437.85,424.20) scale(1.1600,1)">
<text x="0.00" y="-0.20" font-size="15.20" fill="#000" class="r">ε</text>
<text x="6.38" y="2.80" font-size="10.30" fill="#000" class="r"><tspan class="i">T</tspan>−3</text>
</g>
<g transform="translate(482.05,424.20) scale(1.1600,1)">
<text x="0.00" y="-0.20" font-size="15.20" fill="#000" class="r">ε</text>
<text x="6.38" y="2.80" font-size="10.30" fill="#000" class="r"><tspan class="i">T</tspan>−4</text>
</g>
<g transform="translate(304.74,450.30) scale(1.1600,1)">
<text x="0.00" y="-0.30" font-size="15.20" fill="#000" class="ri">b</text>
<text x="8.81" y="-6.30" font-size="10.30" fill="#000" class="ri">T</text>
<text x="7.60" y="2.70" font-size="10.30" fill="#000" class="r"><tspan class="i">T</tspan>−1</text>
</g>
<g transform="translate(350.21,450.30) scale(1.1600,1)">
<text x="0.00" y="-0.30" font-size="15.20" fill="#000" class="ri">b</text>
<text x="8.81" y="-6.30" font-size="10.30" fill="#000" class="r"><tspan class="i">T</tspan>−1</text>
<text x="7.60" y="2.70" font-size="10.30" fill="#000" class="r"><tspan class="i">T</tspan>−1</text>
</g>
<text x="410.60" y="449.00" font-size="14.20" fill="#000" class="r" text-anchor="middle" textLength="7.90" lengthAdjust="spacingAndGlyphs">0</text>
<text x="454.80" y="449.00" font-size="14.20" fill="#000" class="r" text-anchor="middle" textLength="7.90" lengthAdjust="spacingAndGlyphs">0</text>
<text x="499.00" y="449.00" font-size="14.20" fill="#000" class="r" text-anchor="middle" textLength="7.90" lengthAdjust="spacingAndGlyphs">0</text>
<g transform="translate(304.74,493.70) scale(1.1600,1)">
<text x="0.00" y="0.30" font-size="15.20" fill="#000" class="ri">b</text>
<text x="8.81" y="-5.70" font-size="10.30" fill="#000" class="ri">T</text>
<text x="7.60" y="3.30" font-size="10.30" fill="#000" class="r"><tspan class="i">T</tspan>−2</text>
</g>
<g transform="translate(350.21,493.70) scale(1.1600,1)">
<text x="0.00" y="0.30" font-size="15.20" fill="#000" class="ri">b</text>
<text x="8.81" y="-5.70" font-size="10.30" fill="#000" class="r"><tspan class="i">T</tspan>−1</text>
<text x="7.60" y="3.30" font-size="10.30" fill="#000" class="r"><tspan class="i">T</tspan>−2</text>
</g>
<g transform="translate(393.81,493.70) scale(1.1600,1)">
<text x="0.00" y="0.30" font-size="15.20" fill="#000" class="ri">b</text>
<text x="8.81" y="-5.70" font-size="10.30" fill="#000" class="r"><tspan class="i">T</tspan>−1</text>
<text x="7.60" y="3.30" font-size="10.30" fill="#000" class="r"><tspan class="i">T</tspan>−2</text>
</g>
<text x="454.80" y="492.80" font-size="14.20" fill="#000" class="r" text-anchor="middle" textLength="7.90" lengthAdjust="spacingAndGlyphs">0</text>
<text x="499.00" y="492.80" font-size="14.20" fill="#000" class="r" text-anchor="middle" textLength="7.90" lengthAdjust="spacingAndGlyphs">0</text>
<g transform="translate(304.74,537.10) scale(1.1600,1)">
<text x="0.00" y="-0.10" font-size="15.20" fill="#000" class="ri">b</text>
<text x="8.81" y="-6.10" font-size="10.30" fill="#000" class="ri">T</text>
<text x="7.60" y="2.90" font-size="10.30" fill="#000" class="r"><tspan class="i">T</tspan>−3</text>
</g>
<g transform="translate(350.21,537.10) scale(1.1600,1)">
<text x="0.00" y="-0.10" font-size="15.20" fill="#000" class="ri">b</text>
<text x="8.81" y="-6.10" font-size="10.30" fill="#000" class="r"><tspan class="i">T</tspan>−1</text>
<text x="7.60" y="2.90" font-size="10.30" fill="#000" class="r"><tspan class="i">T</tspan>−3</text>
</g>
<g transform="translate(393.81,537.10) scale(1.1600,1)">
<text x="0.00" y="-0.10" font-size="15.20" fill="#000" class="ri">b</text>
<text x="8.81" y="-6.10" font-size="10.30" fill="#000" class="r"><tspan class="i">T</tspan>−2</text>
<text x="7.60" y="2.90" font-size="10.30" fill="#000" class="r"><tspan class="i">T</tspan>−3</text>
</g>
<g transform="translate(438.61,537.10) scale(1.1600,1)">
<text x="0.00" y="-0.10" font-size="15.20" fill="#000" class="ri">b</text>
<text x="8.81" y="-6.10" font-size="10.30" fill="#000" class="r"><tspan class="i">T</tspan>−3</text>
<text x="7.60" y="2.90" font-size="10.30" fill="#000" class="r"><tspan class="i">T</tspan>−3</text>
</g>
<text x="499.00" y="536.10" font-size="14.20" fill="#000" class="r" text-anchor="middle" textLength="7.90" lengthAdjust="spacingAndGlyphs">0</text>
<g transform="translate(304.74,580.40) scale(1.1600,1)">
<text x="0.00" y="-0.40" font-size="15.20" fill="#000" class="ri">b</text>
<text x="8.81" y="-6.40" font-size="10.30" fill="#000" class="ri">T</text>
<text x="7.60" y="2.60" font-size="10.30" fill="#000" class="r"><tspan class="i">T</tspan>−4</text>
</g>
<g transform="translate(350.21,580.40) scale(1.1600,1)">
<text x="0.00" y="-0.40" font-size="15.20" fill="#000" class="ri">b</text>
<text x="8.81" y="-6.40" font-size="10.30" fill="#000" class="r"><tspan class="i">T</tspan>−1</text>
<text x="7.60" y="2.60" font-size="10.30" fill="#000" class="r"><tspan class="i">T</tspan>−4</text>
</g>
<g transform="translate(393.81,580.40) scale(1.1600,1)">
<text x="0.00" y="-0.40" font-size="15.20" fill="#000" class="ri">b</text>
<text x="8.81" y="-6.40" font-size="10.30" fill="#000" class="r"><tspan class="i">T</tspan>−2</text>
<text x="7.60" y="2.60" font-size="10.30" fill="#000" class="r"><tspan class="i">T</tspan>−4</text>
</g>
<g transform="translate(438.61,580.40) scale(1.1600,1)">
<text x="0.00" y="-0.40" font-size="15.20" fill="#000" class="ri">b</text>
<text x="8.81" y="-6.40" font-size="10.30" fill="#000" class="r"><tspan class="i">T</tspan>−3</text>
<text x="7.60" y="2.60" font-size="10.30" fill="#000" class="r"><tspan class="i">T</tspan>−4</text>
</g>
<g transform="translate(481.21,580.40) scale(1.1600,1)">
<text x="0.00" y="-0.40" font-size="15.20" fill="#000" class="ri">b</text>
<text x="8.81" y="-6.40" font-size="10.30" fill="#000" class="r"><tspan class="i">T</tspan>−4</text>
<text x="7.60" y="2.60" font-size="10.30" fill="#000" class="r"><tspan class="i">T</tspan>−4</text>
</g>
<polyline points="112.30,434.20 105.70,434.80 105.70,586.30 112.30,586.30" fill="none" stroke="#6363CF" stroke-width="1.5"/>
<polyline points="271.60,436.20 279.20,436.80 279.20,586.30 271.60,586.30" fill="none" stroke="#6363CF" stroke-width="1.5"/>
<polyline points="306.50,435.50 299.30,436.10 299.30,586.30 306.50,586.30" fill="none" stroke="#6363CF" stroke-width="1.5"/>
<polyline points="507.60,436.20 515.40,436.80 515.40,586.30 507.60,586.30" fill="none" stroke="#6363CF" stroke-width="1.5"/>
<text x="187.20" y="606.00" font-size="12.70" fill="#1a1a1a" class="s" text-anchor="middle" textLength="143.40" lengthAdjust="spacingAndGlyphs">Signal Coefficient Matrix</text>
<text x="406.80" y="606.00" font-size="12.70" fill="#1a1a1a" class="s" text-anchor="middle" textLength="142.60" lengthAdjust="spacingAndGlyphs">Noise Coefficient Matrix</text>
</g>
<g id="recursion">
<g transform="translate(544.20,429.40) scale(1.1658,1)">
<text x="0.00" y="-0.40" font-size="15.20" fill="#5B5BD6" class="ri">y</text>
<text x="6.74" y="2.60" font-size="10.30" fill="#5B5BD6" class="ri">T</text>
<text x="12.77" y="-0.40" font-size="12.46" fill="#5B5BD6" class="r"> = </text>
<text x="26.04" y="-0.40" font-size="15.20" fill="#5B5BD6" class="ri">f</text>
<text x="30.26" y="2.60" font-size="10.30" fill="#5B5BD6" class="ri">T</text>
<text x="36.29" y="-0.40" font-size="15.20" fill="#5B5BD6" class="r">(</text>
<text x="41.35" y="-0.40" font-size="15.20" fill="#5B5BD6" class="ri">x</text>
<text x="48.09" y="2.60" font-size="10.30" fill="#5B5BD6" class="ri">T</text>
<text x="54.12" y="-0.40" font-size="15.20" fill="#5B5BD6" class="r">)</text>
</g>
<g transform="translate(531.40,450.00) scale(1.1136,1)">
<text x="0.00" y="0.00" font-size="15.20" fill="#1c1c1c" class="ri">x</text>
<text x="6.74" y="3.00" font-size="10.30" fill="#1c1c1c" class="r"><tspan class="i">T</tspan>−1</text>
<text x="23.73" y="0.00" font-size="12.46" fill="#1c1c1c" class="r"> = </text>
<text x="37.00" y="0.00" font-size="15.20" fill="#33B548" class="ri">c</text>
<text x="44.95" y="-6.00" font-size="10.30" fill="#33B548" class="ri">T</text>
<text x="43.74" y="3.00" font-size="10.30" fill="#33B548" class="r"><tspan class="i">T</tspan>−1</text>
<text x="60.73" y="0.00" font-size="15.20" fill="#33B548" class="ri">y</text>
<text x="67.47" y="3.00" font-size="10.30" fill="#33B548" class="ri">T</text>
<text x="73.50" y="0.00" font-size="15.20" fill="#000" class="r"> + </text>
<text x="89.68" y="0.00" font-size="15.20" fill="#E8323A" class="ri">b</text>
<text x="98.49" y="-6.00" font-size="10.30" fill="#E8323A" class="ri">T</text>
<text x="97.27" y="3.00" font-size="10.30" fill="#E8323A" class="r"><tspan class="i">T</tspan>−1</text>
<text x="114.26" y="0.00" font-size="15.20" fill="#E8323A" class="r">ε</text>
<text x="120.64" y="3.00" font-size="10.30" fill="#E8323A" class="ri">T</text>
<text x="126.67" y="0.00" font-size="15.20" fill="#000" class="r"> + </text>
<text x="142.85" y="0.00" font-size="15.20" fill="#E8323A" class="ri">b</text>
<text x="151.66" y="-6.00" font-size="10.30" fill="#E8323A" class="r"><tspan class="i">T</tspan>−1</text>
<text x="150.44" y="3.00" font-size="10.30" fill="#E8323A" class="r"><tspan class="i">T</tspan>−1</text>
<text x="168.35" y="0.00" font-size="15.20" fill="#E8323A" class="r">ε</text>
<text x="174.72" y="3.00" font-size="10.30" fill="#E8323A" class="r"><tspan class="i">T</tspan>−1</text>
</g>
<g transform="translate(531.40,470.70) scale(1.1948,1)">
<text x="0.00" y="0.30" font-size="15.20" fill="#5B5BD6" class="ri">y</text>
<text x="6.74" y="3.30" font-size="10.30" fill="#5B5BD6" class="r"><tspan class="i">T</tspan>−1</text>
<text x="23.73" y="0.30" font-size="12.46" fill="#5B5BD6" class="r"> = </text>
<text x="37.00" y="0.30" font-size="15.20" fill="#5B5BD6" class="ri">f</text>
<text x="41.21" y="3.30" font-size="10.30" fill="#5B5BD6" class="r"><tspan class="i">T</tspan>−1</text>
<text x="58.21" y="0.30" font-size="15.20" fill="#5B5BD6" class="r">(</text>
<text x="63.27" y="0.30" font-size="15.20" fill="#5B5BD6" class="ri">x</text>
<text x="70.01" y="3.30" font-size="10.30" fill="#5B5BD6" class="r"><tspan class="i">T</tspan>−1</text>
<text x="87.00" y="0.30" font-size="15.20" fill="#5B5BD6" class="r">)</text>
</g>
<g transform="translate(531.40,493.40) scale(1.1033,1)">
<text x="0.00" y="-0.40" font-size="15.20" fill="#1c1c1c" class="ri">x</text>
<text x="6.74" y="2.60" font-size="10.30" fill="#1c1c1c" class="r"><tspan class="i">T</tspan>−2</text>
<text x="23.73" y="-0.40" font-size="12.46" fill="#1c1c1c" class="r"> = </text>
<text x="37.00" y="-0.40" font-size="15.20" fill="#33B548" class="ri">c</text>
<text x="44.95" y="-6.40" font-size="10.30" fill="#33B548" class="ri">T</text>
<text x="43.74" y="2.60" font-size="10.30" fill="#33B548" class="r"><tspan class="i">T</tspan>−2</text>
<text x="60.73" y="-0.40" font-size="15.20" fill="#33B548" class="ri">y</text>
<text x="67.47" y="2.60" font-size="10.30" fill="#33B548" class="ri">T</text>
<text x="73.50" y="-0.40" font-size="15.20" fill="#000" class="r"> + </text>
<text x="89.68" y="-0.40" font-size="15.20" fill="#33B548" class="ri">c</text>
<text x="97.63" y="-6.40" font-size="10.30" fill="#33B548" class="r"><tspan class="i">T</tspan>−1</text>
<text x="96.42" y="2.60" font-size="10.30" fill="#33B548" class="r"><tspan class="i">T</tspan>−2</text>
<text x="114.32" y="-0.40" font-size="15.20" fill="#33B548" class="ri">y</text>
<text x="121.06" y="2.60" font-size="10.30" fill="#33B548" class="r"><tspan class="i">T</tspan>−1</text>
<text x="138.06" y="-0.40" font-size="15.20" fill="#000" class="r"> + </text>
<text x="154.23" y="-0.40" font-size="15.20" fill="#E8323A" class="ri">b</text>
<text x="163.04" y="-6.40" font-size="10.30" fill="#E8323A" class="ri">T</text>
<text x="161.82" y="2.60" font-size="10.30" fill="#E8323A" class="r"><tspan class="i">T</tspan>−2</text>
<text x="178.81" y="-0.40" font-size="15.20" fill="#E8323A" class="r">ε</text>
<text x="185.19" y="2.60" font-size="10.30" fill="#E8323A" class="ri">T</text>
<text x="191.23" y="-0.40" font-size="15.20" fill="#000" class="r"> + </text>
<text x="207.40" y="-0.40" font-size="15.20" fill="#E8323A" class="ri">b</text>
<text x="216.21" y="-6.40" font-size="10.30" fill="#E8323A" class="r"><tspan class="i">T</tspan>−1</text>
<text x="214.99" y="2.60" font-size="10.30" fill="#E8323A" class="r"><tspan class="i">T</tspan>−2</text>
<text x="232.90" y="-0.40" font-size="15.20" fill="#E8323A" class="r">ε</text>
<text x="239.28" y="2.60" font-size="10.30" fill="#E8323A" class="r"><tspan class="i">T</tspan>−1</text>
<text x="256.27" y="-0.40" font-size="15.20" fill="#000" class="r"> + </text>
<text x="272.44" y="-0.40" font-size="15.20" fill="#E8323A" class="ri">b</text>
<text x="281.25" y="-6.40" font-size="10.30" fill="#E8323A" class="r"><tspan class="i">T</tspan>−2</text>
<text x="280.04" y="2.60" font-size="10.30" fill="#E8323A" class="r"><tspan class="i">T</tspan>−2</text>
<text x="297.94" y="-0.40" font-size="15.20" fill="#E8323A" class="r">ε</text>
<text x="304.32" y="2.60" font-size="10.30" fill="#E8323A" class="r"><tspan class="i">T</tspan>−2</text>
</g>
<g transform="translate(531.40,514.10) scale(1.1948,1)">
<text x="0.00" y="-0.10" font-size="15.20" fill="#5B5BD6" class="ri">y</text>
<text x="6.74" y="2.90" font-size="10.30" fill="#5B5BD6" class="r"><tspan class="i">T</tspan>−2</text>
<text x="23.73" y="-0.10" font-size="12.46" fill="#5B5BD6" class="r"> = </text>
<text x="37.00" y="-0.10" font-size="15.20" fill="#5B5BD6" class="ri">f</text>
<text x="41.21" y="2.90" font-size="10.30" fill="#5B5BD6" class="r"><tspan class="i">T</tspan>−2</text>
<text x="58.21" y="-0.10" font-size="15.20" fill="#5B5BD6" class="r">(</text>
<text x="63.27" y="-0.10" font-size="15.20" fill="#5B5BD6" class="ri">x</text>
<text x="70.01" y="2.90" font-size="10.30" fill="#5B5BD6" class="r"><tspan class="i">T</tspan>−2</text>
<text x="87.00" y="-0.10" font-size="15.20" fill="#5B5BD6" class="r">)</text>
</g>
<g transform="translate(531.40,536.50) scale(1.1015,1)">
<text x="0.00" y="-0.50" font-size="15.20" fill="#1c1c1c" class="ri">x</text>
<text x="6.74" y="2.50" font-size="10.30" fill="#1c1c1c" class="r"><tspan class="i">T</tspan>−3</text>
<text x="23.73" y="-0.50" font-size="12.46" fill="#1c1c1c" class="r"> = </text>
<text x="37.00" y="-0.50" font-size="15.20" fill="#33B548" class="ri">c</text>
<text x="44.95" y="-6.50" font-size="10.30" fill="#33B548" class="ri">T</text>
<text x="43.74" y="2.50" font-size="10.30" fill="#33B548" class="r"><tspan class="i">T</tspan>−3</text>
<text x="60.73" y="-0.50" font-size="15.20" fill="#33B548" class="ri">y</text>
<text x="67.47" y="2.50" font-size="10.30" fill="#33B548" class="ri">T</text>
<text x="73.50" y="-0.50" font-size="15.20" fill="#000" class="r"> + </text>
<text x="89.68" y="-0.50" font-size="15.20" fill="#33B548" class="ri">c</text>
<text x="97.63" y="-6.50" font-size="10.30" fill="#33B548" class="r"><tspan class="i">T</tspan>−1</text>
<text x="96.42" y="2.50" font-size="10.30" fill="#33B548" class="r"><tspan class="i">T</tspan>−3</text>
<text x="114.32" y="-0.50" font-size="15.20" fill="#33B548" class="ri">y</text>
<text x="121.06" y="2.50" font-size="10.30" fill="#33B548" class="r"><tspan class="i">T</tspan>−1</text>
<text x="138.06" y="-0.50" font-size="15.20" fill="#33B548" class="r"> +</text>
<text x="150.43" y="-0.50" font-size="15.20" fill="#33B548" class="ri">c</text>
<text x="158.39" y="-6.50" font-size="10.30" fill="#33B548" class="r"><tspan class="i">T</tspan>−2</text>
<text x="157.17" y="2.50" font-size="10.30" fill="#33B548" class="r"><tspan class="i">T</tspan>−3</text>
<text x="175.07" y="-0.50" font-size="15.20" fill="#33B548" class="ri">y</text>
<text x="181.82" y="2.50" font-size="10.30" fill="#33B548" class="r"><tspan class="i">T</tspan>−2</text>
<text x="198.81" y="-0.50" font-size="15.20" fill="#000" class="r"> + </text>
<text x="214.98" y="-0.50" font-size="15.20" fill="#E8323A" class="ri">b</text>
<text x="223.79" y="-6.50" font-size="10.30" fill="#E8323A" class="ri">T</text>
<text x="222.58" y="2.50" font-size="10.30" fill="#E8323A" class="r"><tspan class="i">T</tspan>−3</text>
<text x="239.57" y="-0.50" font-size="15.20" fill="#E8323A" class="r">ε</text>
<text x="245.95" y="2.50" font-size="10.30" fill="#E8323A" class="ri">T</text>
<text x="251.98" y="-0.50" font-size="15.20" fill="#000" class="r"> + </text>
<text x="268.15" y="-0.50" font-size="15.20" fill="#E8323A" class="ri">b</text>
<text x="276.96" y="-6.50" font-size="10.30" fill="#E8323A" class="r"><tspan class="i">T</tspan>−1</text>
<text x="275.75" y="2.50" font-size="10.30" fill="#E8323A" class="r"><tspan class="i">T</tspan>−3</text>
<text x="293.65" y="-0.50" font-size="15.20" fill="#E8323A" class="r">ε</text>
<text x="300.03" y="2.50" font-size="10.30" fill="#E8323A" class="r"><tspan class="i">T</tspan>−1</text>
<text x="317.02" y="-0.50" font-size="15.20" fill="#000" class="r"> + </text>
<text x="333.19" y="-0.50" font-size="15.20" fill="#E8323A" class="ri">b</text>
<text x="342.00" y="-6.50" font-size="10.30" fill="#E8323A" class="r"><tspan class="i">T</tspan>−2</text>
<text x="340.79" y="2.50" font-size="10.30" fill="#E8323A" class="r"><tspan class="i">T</tspan>−3</text>
<text x="358.69" y="-0.50" font-size="15.20" fill="#E8323A" class="r">ε</text>
<text x="365.07" y="2.50" font-size="10.30" fill="#E8323A" class="r"><tspan class="i">T</tspan>−2</text>
<text x="382.06" y="-0.50" font-size="15.20" fill="#000" class="r"> + </text>
<text x="398.23" y="-0.50" font-size="15.20" fill="#E8323A" class="ri">b</text>
<text x="407.05" y="-6.50" font-size="10.30" fill="#E8323A" class="r"><tspan class="i">T</tspan>−3</text>
<text x="405.83" y="2.50" font-size="10.30" fill="#E8323A" class="r"><tspan class="i">T</tspan>−3</text>
<text x="423.73" y="-0.50" font-size="15.20" fill="#E8323A" class="r">ε</text>
<text x="430.11" y="2.50" font-size="10.30" fill="#E8323A" class="r"><tspan class="i">T</tspan>−3</text>
</g>
<text x="555.60" y="557.20" font-size="11.00" fill="#222" class="s" textLength="24.60" lengthAdjust="spacingAndGlyphs">……</text>
<text x="556.20" y="575.80" font-size="11.00" fill="#222" class="s" textLength="24.60" lengthAdjust="spacingAndGlyphs">……</text>
<g transform="translate(535.20,605.60) scale(1.6728,1)">
<text x="0.00" y="0.00" font-size="15.40" fill="#6464D6" class="ri">f</text>
<text x="4.07" y="3.00" font-size="9.20" fill="#6464D6" class="ri">t</text>
</g>
<text x="547.40" y="606.00" font-size="12.70" fill="#6464D6" class="s" textLength="152.00" lengthAdjust="spacingAndGlyphs">(·) is the model predicting</text>
<g transform="translate(702.60,606.00) scale(1.0729,1)">
<text x="0.00" y="0.00" font-size="15.00" fill="#6464D6" class="ri">x</text>
<text x="6.56" y="3.00" font-size="9.40" fill="#6464D6" class="r">0</text>
</g>
<text x="719.00" y="606.00" font-size="12.70" fill="#6464D6" class="s" textLength="49.40" lengthAdjust="spacingAndGlyphs">at time t</text>
</g>
<text x="233.80" y="671.60" font-size="27.00" fill="#000" class="r" textLength="96.60" lengthAdjust="spacingAndGlyphs">Figure 6:</text>
<text x="340.90" y="671.60" font-size="27.00" fill="#000" class="r" textLength="513.20" lengthAdjust="spacingAndGlyphs">A new inference framework - Natural Inference</text>
</svg>
</body></html>
